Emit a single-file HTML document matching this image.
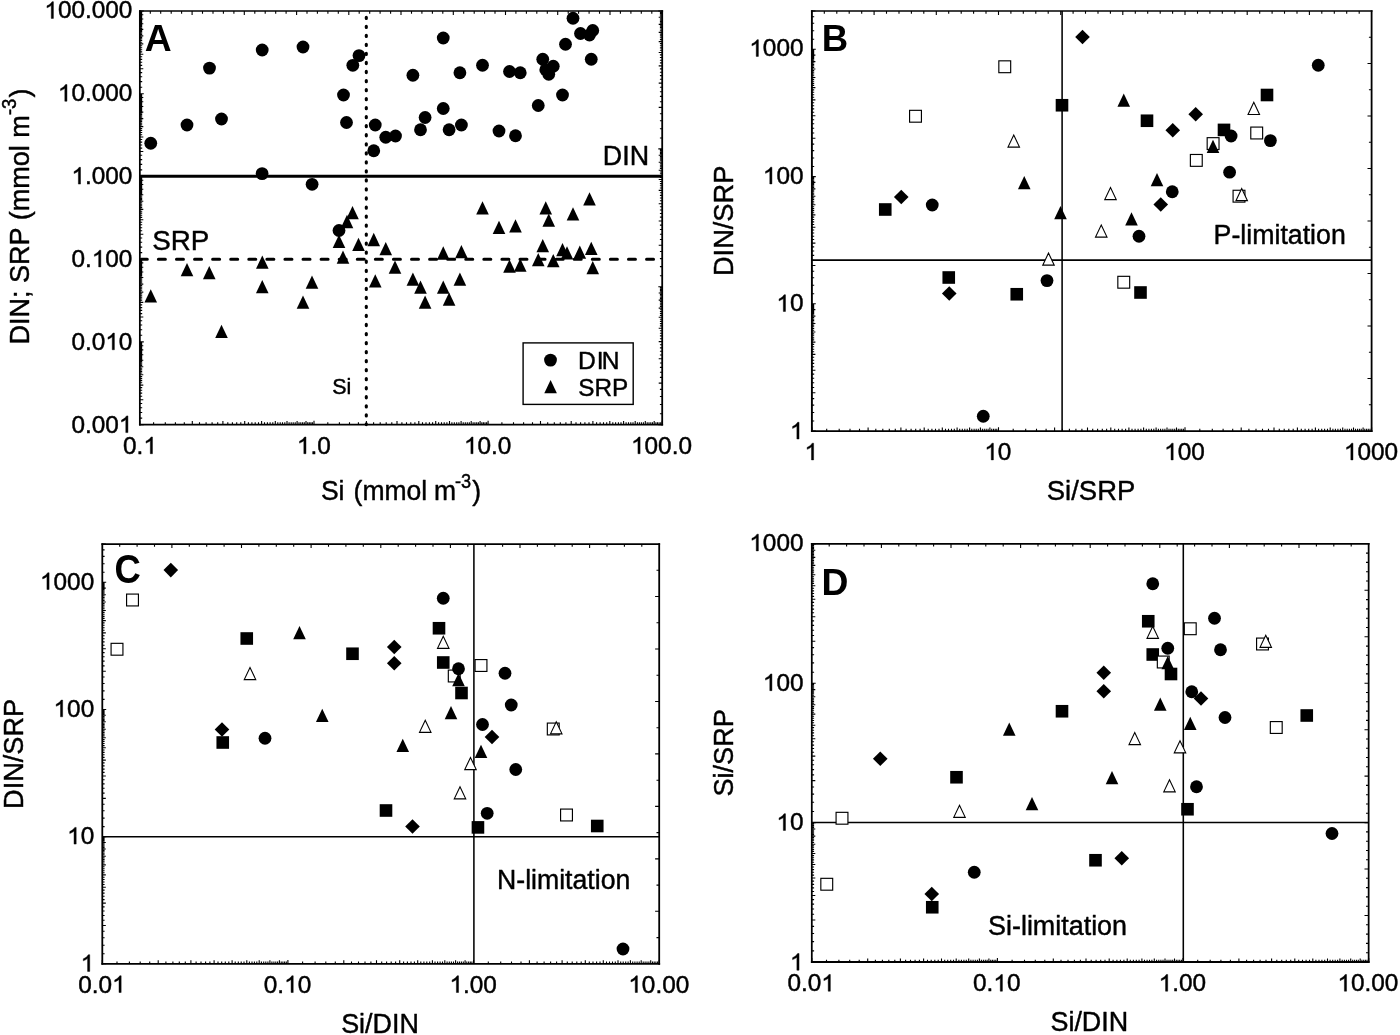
<!DOCTYPE html>
<html><head><meta charset="utf-8"><title>Nutrient ratios</title>
<style>
html,body{margin:0;padding:0;background:#fff;}
svg{display:block;font-family:"Liberation Sans", sans-serif;fill:#000;will-change:transform;}
svg text{font-family:"Liberation Sans", sans-serif;stroke:#000;stroke-width:0.45px;stroke-linejoin:round;}
</style></head><body>
<svg width="1400" height="1035" viewBox="0 0 1400 1035">
<rect width="1400" height="1035" fill="#fff"/>
<line x1="139.85" y1="176.30" x2="662.20" y2="176.30" stroke="#000" stroke-width="3.0" />
<line x1="141.20" y1="259.20" x2="662.20" y2="259.20" stroke="#000" stroke-width="3.0" stroke-dasharray="7 11.08" stroke-dashoffset="0.9" stroke-linecap="round"/>
<line x1="366.30" y1="17.20" x2="366.30" y2="424.60" stroke="#000" stroke-width="3.1" stroke-dasharray="1.2 7.835" stroke-linecap="round"/>
<circle cx="150.75" cy="143.25" r="6.4" fill="#000"/>
<circle cx="187.00" cy="125.00" r="6.4" fill="#000"/>
<circle cx="209.50" cy="68.10" r="6.4" fill="#000"/>
<circle cx="221.50" cy="119.00" r="6.4" fill="#000"/>
<circle cx="262.20" cy="50.00" r="6.4" fill="#000"/>
<circle cx="262.10" cy="173.60" r="6.4" fill="#000"/>
<circle cx="303.00" cy="47.00" r="6.4" fill="#000"/>
<circle cx="312.10" cy="184.30" r="6.4" fill="#000"/>
<circle cx="343.50" cy="95.00" r="6.4" fill="#000"/>
<circle cx="346.50" cy="122.50" r="6.4" fill="#000"/>
<circle cx="352.80" cy="65.30" r="6.4" fill="#000"/>
<circle cx="359.00" cy="55.60" r="6.4" fill="#000"/>
<circle cx="339.00" cy="230.50" r="6.4" fill="#000"/>
<circle cx="375.25" cy="125.00" r="6.4" fill="#000"/>
<circle cx="373.75" cy="150.75" r="6.4" fill="#000"/>
<circle cx="385.75" cy="137.25" r="6.4" fill="#000"/>
<circle cx="395.50" cy="136.00" r="6.4" fill="#000"/>
<circle cx="412.90" cy="75.25" r="6.4" fill="#000"/>
<circle cx="420.50" cy="129.75" r="6.4" fill="#000"/>
<circle cx="425.10" cy="117.50" r="6.4" fill="#000"/>
<circle cx="443.25" cy="38.00" r="6.4" fill="#000"/>
<circle cx="443.25" cy="108.50" r="6.4" fill="#000"/>
<circle cx="449.10" cy="129.75" r="6.4" fill="#000"/>
<circle cx="459.90" cy="72.75" r="6.4" fill="#000"/>
<circle cx="461.40" cy="125.00" r="6.4" fill="#000"/>
<circle cx="482.50" cy="65.25" r="6.4" fill="#000"/>
<circle cx="499.00" cy="131.00" r="6.4" fill="#000"/>
<circle cx="509.50" cy="71.50" r="6.4" fill="#000"/>
<circle cx="515.50" cy="135.75" r="6.4" fill="#000"/>
<circle cx="520.25" cy="72.75" r="6.4" fill="#000"/>
<circle cx="538.25" cy="105.50" r="6.4" fill="#000"/>
<circle cx="542.75" cy="59.25" r="6.4" fill="#000"/>
<circle cx="545.75" cy="69.75" r="6.4" fill="#000"/>
<circle cx="548.75" cy="74.25" r="6.4" fill="#000"/>
<circle cx="553.25" cy="66.25" r="6.4" fill="#000"/>
<circle cx="562.50" cy="95.00" r="6.4" fill="#000"/>
<circle cx="565.50" cy="44.25" r="6.4" fill="#000"/>
<circle cx="573.00" cy="18.25" r="6.4" fill="#000"/>
<circle cx="580.50" cy="33.50" r="6.4" fill="#000"/>
<circle cx="589.50" cy="35.00" r="6.4" fill="#000"/>
<circle cx="592.75" cy="30.50" r="6.4" fill="#000"/>
<circle cx="591.25" cy="59.25" r="6.4" fill="#000"/>
<path d="M144.45 302.60L157.05 302.60L150.75 289.30Z" fill="#000"/>
<path d="M180.70 276.35L193.30 276.35L187.00 263.05Z" fill="#000"/>
<path d="M202.95 279.35L215.55 279.35L209.25 266.05Z" fill="#000"/>
<path d="M215.20 338.10L227.80 338.10L221.50 324.80Z" fill="#000"/>
<path d="M256.00 268.70L268.60 268.70L262.30 255.40Z" fill="#000"/>
<path d="M255.95 293.35L268.55 293.35L262.25 280.05Z" fill="#000"/>
<path d="M296.70 308.85L309.30 308.85L303.00 295.55Z" fill="#000"/>
<path d="M305.70 288.85L318.30 288.85L312.00 275.55Z" fill="#000"/>
<path d="M332.70 248.05L345.30 248.05L339.00 234.75Z" fill="#000"/>
<path d="M336.70 263.85L349.30 263.85L343.00 250.55Z" fill="#000"/>
<path d="M340.70 228.15L353.30 228.15L347.00 214.85Z" fill="#000"/>
<path d="M346.20 219.25L358.80 219.25L352.50 205.95Z" fill="#000"/>
<path d="M352.20 251.05L364.80 251.05L358.50 237.75Z" fill="#000"/>
<path d="M367.45 246.15L380.05 246.15L373.75 232.85Z" fill="#000"/>
<path d="M368.95 287.60L381.55 287.60L375.25 274.30Z" fill="#000"/>
<path d="M379.45 255.35L392.05 255.35L385.75 242.05Z" fill="#000"/>
<path d="M388.70 273.85L401.30 273.85L395.00 260.55Z" fill="#000"/>
<path d="M406.60 285.85L419.20 285.85L412.90 272.55Z" fill="#000"/>
<path d="M414.20 293.85L426.80 293.85L420.50 280.55Z" fill="#000"/>
<path d="M418.80 308.85L431.40 308.85L425.10 295.55Z" fill="#000"/>
<path d="M436.95 259.65L449.55 259.65L443.25 246.35Z" fill="#000"/>
<path d="M436.95 293.85L449.55 293.85L443.25 280.55Z" fill="#000"/>
<path d="M442.80 305.85L455.40 305.85L449.10 292.55Z" fill="#000"/>
<path d="M453.60 285.85L466.20 285.85L459.90 272.55Z" fill="#000"/>
<path d="M455.10 258.35L467.70 258.35L461.40 245.05Z" fill="#000"/>
<path d="M476.20 214.45L488.80 214.45L482.50 201.15Z" fill="#000"/>
<path d="M492.70 234.05L505.30 234.05L499.00 220.75Z" fill="#000"/>
<path d="M509.20 232.60L521.80 232.60L515.50 219.30Z" fill="#000"/>
<path d="M539.45 214.45L552.05 214.45L545.75 201.15Z" fill="#000"/>
<path d="M542.45 226.85L555.05 226.85L548.75 213.55Z" fill="#000"/>
<path d="M566.70 220.60L579.30 220.60L573.00 207.30Z" fill="#000"/>
<path d="M583.20 205.60L595.80 205.60L589.50 192.30Z" fill="#000"/>
<path d="M536.45 252.35L549.05 252.35L542.75 239.05Z" fill="#000"/>
<path d="M556.20 256.35L568.80 256.35L562.50 243.05Z" fill="#000"/>
<path d="M560.70 259.60L573.30 259.60L567.00 246.30Z" fill="#000"/>
<path d="M573.50 258.85L586.10 258.85L579.80 245.55Z" fill="#000"/>
<path d="M584.95 255.10L597.55 255.10L591.25 241.80Z" fill="#000"/>
<path d="M503.20 272.85L515.80 272.85L509.50 259.55Z" fill="#000"/>
<path d="M513.95 271.85L526.55 271.85L520.25 258.55Z" fill="#000"/>
<path d="M531.95 266.35L544.55 266.35L538.25 253.05Z" fill="#000"/>
<path d="M546.95 267.35L559.55 267.35L553.25 254.05Z" fill="#000"/>
<path d="M586.45 274.35L599.05 274.35L592.75 261.05Z" fill="#000"/>
<line x1="139.85" y1="10.15" x2="139.85" y2="425.55" stroke="#000" stroke-width="1.75" />
<line x1="662.20" y1="10.15" x2="662.20" y2="425.55" stroke="#000" stroke-width="1.8" />
<line x1="138.97" y1="11.00" x2="663.10" y2="11.00" stroke="#000" stroke-width="1.7" />
<line x1="138.97" y1="424.60" x2="663.10" y2="424.60" stroke="#000" stroke-width="1.9" />
<path d="M139.8 424.6L143.8 424.6M139.8 418.1L142.2 418.1M139.8 412.5L142.2 412.5M139.8 407.7L142.2 407.7M139.8 403.5L142.2 403.5M139.8 399.7L143.3 399.7M139.8 396.3L142.2 396.3M139.8 393.1L142.2 393.1M139.8 390.3L142.2 390.3M139.8 387.6L142.2 387.6M139.8 385.1L143.3 385.1M139.8 382.8L142.2 382.8M139.8 380.6L142.2 380.6M139.8 378.6L142.2 378.6M139.8 376.6L142.2 376.6M139.8 374.8L143.3 374.8M139.8 373.0L142.2 373.0M139.8 371.4L142.2 371.4M139.8 369.8L142.2 369.8M139.8 368.2L142.2 368.2M139.8 366.8L143.3 366.8M139.8 365.4L142.2 365.4M139.8 364.0L142.2 364.0M139.8 362.7L142.2 362.7M139.8 361.4L142.2 361.4M139.8 360.2L143.3 360.2M139.8 359.1L142.2 359.1M139.8 357.9L142.2 357.9M139.8 356.8L142.2 356.8M139.8 355.7L142.2 355.7M139.8 354.7L143.3 354.7M139.8 353.7L142.2 353.7M139.8 352.7L142.2 352.7M139.8 351.7L142.2 351.7M139.8 350.8L142.2 350.8M139.8 349.9L143.3 349.9M139.8 349.0L142.2 349.0M139.8 348.1L142.2 348.1M139.8 347.3L142.2 347.3M139.8 346.5L142.2 346.5M139.8 345.7L143.3 345.7M139.8 344.9L142.2 344.9M139.8 344.1L142.2 344.1M139.8 343.3L142.2 343.3M139.8 342.6L142.2 342.6M139.8 341.9L143.8 341.9M139.8 335.3L142.2 335.3M139.8 329.8L142.2 329.8M139.8 325.0L142.2 325.0M139.8 320.8L142.2 320.8M139.8 317.0L143.3 317.0M139.8 313.6L142.2 313.6M139.8 310.4L142.2 310.4M139.8 307.6L142.2 307.6M139.8 304.9L142.2 304.9M139.8 302.4L143.3 302.4M139.8 300.1L142.2 300.1M139.8 297.9L142.2 297.9M139.8 295.9L142.2 295.9M139.8 293.9L142.2 293.9M139.8 292.1L143.3 292.1M139.8 290.3L142.2 290.3M139.8 288.7L142.2 288.7M139.8 287.1L142.2 287.1M139.8 285.5L142.2 285.5M139.8 284.1L143.3 284.1M139.8 282.7L142.2 282.7M139.8 281.3L142.2 281.3M139.8 280.0L142.2 280.0M139.8 278.7L142.2 278.7M139.8 277.5L143.3 277.5M139.8 276.3L142.2 276.3M139.8 275.2L142.2 275.2M139.8 274.1L142.2 274.1M139.8 273.0L142.2 273.0M139.8 272.0L143.3 272.0M139.8 271.0L142.2 271.0M139.8 270.0L142.2 270.0M139.8 269.0L142.2 269.0M139.8 268.1L142.2 268.1M139.8 267.2L143.3 267.2M139.8 266.3L142.2 266.3M139.8 265.4L142.2 265.4M139.8 264.6L142.2 264.6M139.8 263.8L142.2 263.8M139.8 262.9L143.3 262.9M139.8 262.2L142.2 262.2M139.8 261.4L142.2 261.4M139.8 260.6L142.2 260.6M139.8 259.9L142.2 259.9M139.8 259.2L143.8 259.2M139.8 252.6L142.2 252.6M139.8 247.1L142.2 247.1M139.8 242.3L142.2 242.3M139.8 238.0L142.2 238.0M139.8 234.3L143.3 234.3M139.8 230.8L142.2 230.8M139.8 227.7L142.2 227.7M139.8 224.8L142.2 224.8M139.8 222.2L142.2 222.2M139.8 219.7L143.3 219.7M139.8 217.4L142.2 217.4M139.8 215.2L142.2 215.2M139.8 213.1L142.2 213.1M139.8 211.2L142.2 211.2M139.8 209.4L143.3 209.4M139.8 207.6L142.2 207.6M139.8 205.9L142.2 205.9M139.8 204.3L142.2 204.3M139.8 202.8L142.2 202.8M139.8 201.3L143.3 201.3M139.8 199.9L142.2 199.9M139.8 198.6L142.2 198.6M139.8 197.3L142.2 197.3M139.8 196.0L142.2 196.0M139.8 194.8L143.3 194.8M139.8 193.6L142.2 193.6M139.8 192.5L142.2 192.5M139.8 191.4L142.2 191.4M139.8 190.3L142.2 190.3M139.8 189.3L143.3 189.3M139.8 188.2L142.2 188.2M139.8 187.3L142.2 187.3M139.8 186.3L142.2 186.3M139.8 185.4L142.2 185.4M139.8 184.5L143.3 184.5M139.8 183.6L142.2 183.6M139.8 182.7L142.2 182.7M139.8 181.9L142.2 181.9M139.8 181.0L142.2 181.0M139.8 180.2L143.3 180.2M139.8 179.4L142.2 179.4M139.8 178.7L142.2 178.7M139.8 177.9L142.2 177.9M139.8 177.2L142.2 177.2M139.8 176.4L143.8 176.4M139.8 169.9L142.2 169.9M139.8 164.4L142.2 164.4M139.8 159.6L142.2 159.6M139.8 155.3L142.2 155.3M139.8 151.5L143.3 151.5M139.8 148.1L142.2 148.1M139.8 145.0L142.2 145.0M139.8 142.1L142.2 142.1M139.8 139.5L142.2 139.5M139.8 137.0L143.3 137.0M139.8 134.7L142.2 134.7M139.8 132.5L142.2 132.5M139.8 130.4L142.2 130.4M139.8 128.5L142.2 128.5M139.8 126.6L143.3 126.6M139.8 124.9L142.2 124.9M139.8 123.2L142.2 123.2M139.8 121.6L142.2 121.6M139.8 120.1L142.2 120.1M139.8 118.6L143.3 118.6M139.8 117.2L142.2 117.2M139.8 115.9L142.2 115.9M139.8 114.5L142.2 114.5M139.8 113.3L142.2 113.3M139.8 112.1L143.3 112.1M139.8 110.9L142.2 110.9M139.8 109.8L142.2 109.8M139.8 108.6L142.2 108.6M139.8 107.6L142.2 107.6M139.8 106.5L143.3 106.5M139.8 105.5L142.2 105.5M139.8 104.5L142.2 104.5M139.8 103.6L142.2 103.6M139.8 102.6L142.2 102.6M139.8 101.7L143.3 101.7M139.8 100.8L142.2 100.8M139.8 100.0L142.2 100.0M139.8 99.1L142.2 99.1M139.8 98.3L142.2 98.3M139.8 97.5L143.3 97.5M139.8 96.7L142.2 96.7M139.8 95.9L142.2 95.9M139.8 95.2L142.2 95.2M139.8 94.4L142.2 94.4M139.8 93.7L143.8 93.7M139.8 87.2L142.2 87.2M139.8 81.6L142.2 81.6M139.8 76.8L142.2 76.8M139.8 72.6L142.2 72.6M139.8 68.8L143.3 68.8M139.8 65.4L142.2 65.4M139.8 62.3L142.2 62.3M139.8 59.4L142.2 59.4M139.8 56.7L142.2 56.7M139.8 54.3L143.3 54.3M139.8 51.9L142.2 51.9M139.8 49.8L142.2 49.8M139.8 47.7L142.2 47.7M139.8 45.8L142.2 45.8M139.8 43.9L143.3 43.9M139.8 42.2L142.2 42.2M139.8 40.5L142.2 40.5M139.8 38.9L142.2 38.9M139.8 37.4L142.2 37.4M139.8 35.9L143.3 35.9M139.8 34.5L142.2 34.5M139.8 33.1L142.2 33.1M139.8 31.8L142.2 31.8M139.8 30.6L142.2 30.6M139.8 29.4L143.3 29.4M139.8 28.2L142.2 28.2M139.8 27.0L142.2 27.0M139.8 25.9L142.2 25.9M139.8 24.9L142.2 24.9M139.8 23.8L143.3 23.8M139.8 22.8L142.2 22.8M139.8 21.8L142.2 21.8M139.8 20.9L142.2 20.9M139.8 19.9L142.2 19.9M139.8 19.0L143.3 19.0M139.8 18.1L142.2 18.1M139.8 17.3L142.2 17.3M139.8 16.4L142.2 16.4M139.8 15.6L142.2 15.6M139.8 14.8L143.3 14.8M139.8 14.0L142.2 14.0M139.8 13.2L142.2 13.2M139.8 12.5L142.2 12.5M139.8 11.7L142.2 11.7M139.8 11.0L143.8 11.0M139.8 424.6L139.8 420.7M153.6 424.6L153.6 422.3M165.3 424.6L165.3 422.3M175.4 424.6L175.4 422.3M184.3 424.6L184.3 422.3M192.3 424.6L192.3 421.1M199.5 424.6L199.5 422.3M206.1 424.6L206.1 422.3M212.1 424.6L212.1 422.3M217.7 424.6L217.7 422.3M222.9 424.6L222.9 421.1M227.8 424.6L227.8 422.3M232.4 424.6L232.4 422.3M236.7 424.6L236.7 422.3M240.8 424.6L240.8 422.3M244.7 424.6L244.7 421.1M248.4 424.6L248.4 422.3M251.9 424.6L251.9 422.3M255.2 424.6L255.2 422.3M258.5 424.6L258.5 422.3M261.6 424.6L261.6 421.1M264.5 424.6L264.5 422.3M267.4 424.6L267.4 422.3M270.1 424.6L270.1 422.3M272.8 424.6L272.8 422.3M275.3 424.6L275.3 421.1M277.8 424.6L277.8 422.3M280.2 424.6L280.2 422.3M282.5 424.6L282.5 422.3M284.8 424.6L284.8 422.3M287.0 424.6L287.0 421.1M289.1 424.6L289.1 422.3M291.2 424.6L291.2 422.3M293.2 424.6L293.2 422.3M295.2 424.6L295.2 422.3M297.1 424.6L297.1 421.1M299.0 424.6L299.0 422.3M300.8 424.6L300.8 422.3M302.6 424.6L302.6 422.3M304.3 424.6L304.3 422.3M306.0 424.6L306.0 421.1M307.7 424.6L307.7 422.3M309.3 424.6L309.3 422.3M310.9 424.6L310.9 422.3M312.4 424.6L312.4 422.3M314.0 424.6L314.0 420.7M327.8 424.6L327.8 422.3M339.4 424.6L339.4 422.3M349.5 424.6L349.5 422.3M358.4 424.6L358.4 422.3M366.4 424.6L366.4 421.1M373.6 424.6L373.6 422.3M380.2 424.6L380.2 422.3M386.2 424.6L386.2 422.3M391.8 424.6L391.8 422.3M397.0 424.6L397.0 421.1M401.9 424.6L401.9 422.3M406.5 424.6L406.5 422.3M410.8 424.6L410.8 422.3M414.9 424.6L414.9 422.3M418.8 424.6L418.8 421.1M422.5 424.6L422.5 422.3M426.0 424.6L426.0 422.3M429.4 424.6L429.4 422.3M432.6 424.6L432.6 422.3M435.7 424.6L435.7 421.1M438.6 424.6L438.6 422.3M441.5 424.6L441.5 422.3M444.2 424.6L444.2 422.3M446.9 424.6L446.9 422.3M449.5 424.6L449.5 421.1M451.9 424.6L451.9 422.3M454.3 424.6L454.3 422.3M456.7 424.6L456.7 422.3M458.9 424.6L458.9 422.3M461.1 424.6L461.1 421.1M463.2 424.6L463.2 422.3M465.3 424.6L465.3 422.3M467.3 424.6L467.3 422.3M469.3 424.6L469.3 422.3M471.2 424.6L471.2 421.1M473.1 424.6L473.1 422.3M474.9 424.6L474.9 422.3M476.7 424.6L476.7 422.3M478.4 424.6L478.4 422.3M480.1 424.6L480.1 421.1M481.8 424.6L481.8 422.3M483.4 424.6L483.4 422.3M485.0 424.6L485.0 422.3M486.6 424.6L486.6 422.3M488.1 424.6L488.1 420.7M501.9 424.6L501.9 422.3M513.5 424.6L513.5 422.3M523.6 424.6L523.6 422.3M532.5 424.6L532.5 422.3M540.5 424.6L540.5 421.1M547.7 424.6L547.7 422.3M554.3 424.6L554.3 422.3M560.3 424.6L560.3 422.3M565.9 424.6L565.9 422.3M571.2 424.6L571.2 421.1M576.0 424.6L576.0 422.3M580.6 424.6L580.6 422.3M584.9 424.6L584.9 422.3M589.0 424.6L589.0 422.3M592.9 424.6L592.9 421.1M596.6 424.6L596.6 422.3M600.1 424.6L600.1 422.3M603.5 424.6L603.5 422.3M606.7 424.6L606.7 422.3M609.8 424.6L609.8 421.1M612.8 424.6L612.8 422.3M615.6 424.6L615.6 422.3M618.4 424.6L618.4 422.3M621.0 424.6L621.0 422.3M623.6 424.6L623.6 421.1M626.1 424.6L626.1 422.3M628.5 424.6L628.5 422.3M630.8 424.6L630.8 422.3M633.0 424.6L633.0 422.3M635.2 424.6L635.2 421.1M637.4 424.6L637.4 422.3M639.4 424.6L639.4 422.3M641.4 424.6L641.4 422.3M643.4 424.6L643.4 422.3M645.3 424.6L645.3 421.1M647.2 424.6L647.2 422.3M649.0 424.6L649.0 422.3M650.8 424.6L650.8 422.3M652.5 424.6L652.5 422.3M654.2 424.6L654.2 421.1M655.9 424.6L655.9 422.3M657.5 424.6L657.5 422.3M659.1 424.6L659.1 422.3M660.7 424.6L660.7 422.3M662.2 424.6L662.2 420.7M662.2 424.6L658.3 424.6M662.2 413.7L659.9 413.7M662.2 404.5L659.9 404.5M662.2 396.5L659.9 396.5M662.2 389.4L659.9 389.4M662.2 383.1L658.7 383.1M662.2 377.4L659.9 377.4M662.2 372.2L659.9 372.2M662.2 367.4L659.9 367.4M662.2 363.0L659.9 363.0M662.2 358.8L658.7 358.8M662.2 355.0L659.9 355.0M662.2 351.3L659.9 351.3M662.2 347.9L659.9 347.9M662.2 344.7L659.9 344.7M662.2 341.6L658.7 341.6M662.2 338.7L659.9 338.7M662.2 335.9L659.9 335.9M662.2 333.2L659.9 333.2M662.2 330.7L659.9 330.7M662.2 328.2L658.7 328.2M662.2 325.9L659.9 325.9M662.2 323.6L659.9 323.6M662.2 321.4L659.9 321.4M662.2 319.3L659.9 319.3M662.2 317.3L658.7 317.3M662.2 315.4L659.9 315.4M662.2 313.5L659.9 313.5M662.2 311.6L659.9 311.6M662.2 309.8L659.9 309.8M662.2 308.1L658.7 308.1M662.2 306.4L659.9 306.4M662.2 304.8L659.9 304.8M662.2 303.2L659.9 303.2M662.2 301.6L659.9 301.6M662.2 300.1L658.7 300.1M662.2 298.6L659.9 298.6M662.2 297.2L659.9 297.2M662.2 295.8L659.9 295.8M662.2 294.4L659.9 294.4M662.2 293.0L658.7 293.0M662.2 291.7L659.9 291.7M662.2 290.4L659.9 290.4M662.2 289.2L659.9 289.2M662.2 287.9L659.9 287.9M662.2 286.7L658.3 286.7M662.2 275.8L659.9 275.8M662.2 266.6L659.9 266.6M662.2 258.6L659.9 258.6M662.2 251.5L659.9 251.5M662.2 245.2L658.7 245.2M662.2 239.5L659.9 239.5M662.2 234.3L659.9 234.3M662.2 229.5L659.9 229.5M662.2 225.1L659.9 225.1M662.2 221.0L658.7 221.0M662.2 217.1L659.9 217.1M662.2 213.5L659.9 213.5M662.2 210.0L659.9 210.0M662.2 206.8L659.9 206.8M662.2 203.7L658.7 203.7M662.2 200.8L659.9 200.8M662.2 198.0L659.9 198.0M662.2 195.4L659.9 195.4M662.2 192.8L659.9 192.8M662.2 190.4L658.7 190.4M662.2 188.0L659.9 188.0M662.2 185.8L659.9 185.8M662.2 183.6L659.9 183.6M662.2 181.5L659.9 181.5M662.2 179.5L658.7 179.5M662.2 177.5L659.9 177.5M662.2 175.6L659.9 175.6M662.2 173.7L659.9 173.7M662.2 172.0L659.9 172.0M662.2 170.2L658.7 170.2M662.2 168.5L659.9 168.5M662.2 166.9L659.9 166.9M662.2 165.3L659.9 165.3M662.2 163.7L659.9 163.7M662.2 162.2L658.7 162.2M662.2 160.7L659.9 160.7M662.2 159.3L659.9 159.3M662.2 157.9L659.9 157.9M662.2 156.5L659.9 156.5M662.2 155.2L658.7 155.2M662.2 153.9L659.9 153.9M662.2 152.6L659.9 152.6M662.2 151.3L659.9 151.3M662.2 150.1L659.9 150.1M662.2 148.9L658.3 148.9M662.2 138.0L659.9 138.0M662.2 128.7L659.9 128.7M662.2 120.7L659.9 120.7M662.2 113.7L659.9 113.7M662.2 107.4L658.7 107.4M662.2 101.7L659.9 101.7M662.2 96.4L659.9 96.4M662.2 91.7L659.9 91.7M662.2 87.2L659.9 87.2M662.2 83.1L658.7 83.1M662.2 79.2L659.9 79.2M662.2 75.6L659.9 75.6M662.2 72.2L659.9 72.2M662.2 68.9L659.9 68.9M662.2 65.9L658.7 65.9M662.2 62.9L659.9 62.9M662.2 60.2L659.9 60.2M662.2 57.5L659.9 57.5M662.2 54.9L659.9 54.9M662.2 52.5L658.7 52.5M662.2 50.2L659.9 50.2M662.2 47.9L659.9 47.9M662.2 45.7L659.9 45.7M662.2 43.6L659.9 43.6M662.2 41.6L658.7 41.6M662.2 39.6L659.9 39.6M662.2 37.7L659.9 37.7M662.2 35.9L659.9 35.9M662.2 34.1L659.9 34.1M662.2 32.4L658.7 32.4M662.2 30.7L659.9 30.7M662.2 29.0L659.9 29.0M662.2 27.4L659.9 27.4M662.2 25.9L659.9 25.9M662.2 24.4L658.7 24.4M662.2 22.9L659.9 22.9M662.2 21.4L659.9 21.4M662.2 20.0L659.9 20.0M662.2 18.7L659.9 18.7M662.2 17.3L658.7 17.3M662.2 16.0L659.9 16.0M662.2 14.7L659.9 14.7M662.2 13.4L659.9 13.4M662.2 12.2L659.9 12.2M662.2 11.0L658.3 11.0M150.3 11.0L150.3 13.8M160.7 11.0L160.7 13.8M171.2 11.0L171.2 13.8M181.6 11.0L181.6 13.8M192.1 11.0L192.1 15.1M202.5 11.0L202.5 13.8M213.0 11.0L213.0 13.8M223.4 11.0L223.4 13.8M233.9 11.0L233.9 13.8M244.3 11.0L244.3 15.1M254.8 11.0L254.8 13.8M265.2 11.0L265.2 13.8M275.7 11.0L275.7 13.8M286.1 11.0L286.1 13.8M296.6 11.0L296.6 15.1M307.0 11.0L307.0 13.8M317.4 11.0L317.4 13.8M327.9 11.0L327.9 13.8M338.3 11.0L338.3 13.8M348.8 11.0L348.8 15.1M359.2 11.0L359.2 13.8M369.7 11.0L369.7 13.8M380.1 11.0L380.1 13.8M390.6 11.0L390.6 13.8M401.0 11.0L401.0 15.1M411.5 11.0L411.5 13.8M421.9 11.0L421.9 13.8M432.4 11.0L432.4 13.8M442.8 11.0L442.8 13.8M453.3 11.0L453.3 15.1M463.7 11.0L463.7 13.8M474.2 11.0L474.2 13.8M484.6 11.0L484.6 13.8M495.0 11.0L495.0 13.8M505.5 11.0L505.5 15.1M515.9 11.0L515.9 13.8M526.4 11.0L526.4 13.8M536.8 11.0L536.8 13.8M547.3 11.0L547.3 13.8M557.7 11.0L557.7 15.1M568.2 11.0L568.2 13.8M578.6 11.0L578.6 13.8M589.1 11.0L589.1 13.8M599.5 11.0L599.5 13.8M610.0 11.0L610.0 15.1M620.4 11.0L620.4 13.8M630.9 11.0L630.9 13.8M641.3 11.0L641.3 13.8M651.8 11.0L651.8 13.8" stroke="#000" stroke-width="1.1" fill="none"/>
<g transform="translate(44.33 18.40) scale(1.007 1)"><text font-size="24.2" x="13.46 26.91 40.37 47.09 60.55 74.00" y="0">00.000</text><path d="M763 0H583V1147Q518 1085 412.5 1023T223 930V1104Q374 1175 487 1276T647 1472H763Z" transform="translate(0.00 0) scale(0.01182 -0.01136)" fill="#000" stroke="#000" stroke-width="38.1" stroke-linejoin="round"/></g>
<g transform="translate(57.88 101.24) scale(1.007 1)"><text font-size="24.2" x="13.46 26.91 33.64 47.09 60.55" y="0">0.000</text><path d="M763 0H583V1147Q518 1085 412.5 1023T223 930V1104Q374 1175 487 1276T647 1472H763Z" transform="translate(0.00 0) scale(0.01182 -0.01136)" fill="#000" stroke="#000" stroke-width="38.1" stroke-linejoin="round"/></g>
<g transform="translate(71.43 184.08) scale(1.007 1)"><text font-size="24.2" x="13.46 20.18 33.64 47.09" y="0">.000</text><path d="M763 0H583V1147Q518 1085 412.5 1023T223 930V1104Q374 1175 487 1276T647 1472H763Z" transform="translate(0.00 0) scale(0.01182 -0.01136)" fill="#000" stroke="#000" stroke-width="38.1" stroke-linejoin="round"/></g>
<g transform="translate(71.43 266.92) scale(1.007 1)"><text font-size="24.2" x="0.00 13.46 33.64 47.09" y="0">0.00</text><path d="M763 0H583V1147Q518 1085 412.5 1023T223 930V1104Q374 1175 487 1276T647 1472H763Z" transform="translate(20.18 0) scale(0.01182 -0.01136)" fill="#000" stroke="#000" stroke-width="38.1" stroke-linejoin="round"/></g>
<g transform="translate(71.43 349.76) scale(1.007 1)"><text font-size="24.2" x="0.00 13.46 20.18 47.09" y="0">0.00</text><path d="M763 0H583V1147Q518 1085 412.5 1023T223 930V1104Q374 1175 487 1276T647 1472H763Z" transform="translate(33.64 0) scale(0.01182 -0.01136)" fill="#000" stroke="#000" stroke-width="38.1" stroke-linejoin="round"/></g>
<g transform="translate(71.43 432.60) scale(1.007 1)"><text font-size="24.2" x="0.00 13.46 20.18 33.64" y="0">0.00</text><path d="M763 0H583V1147Q518 1085 412.5 1023T223 930V1104Q374 1175 487 1276T647 1472H763Z" transform="translate(47.09 0) scale(0.01182 -0.01136)" fill="#000" stroke="#000" stroke-width="38.1" stroke-linejoin="round"/></g>
<g transform="translate(123.06 453.70) scale(1.007 1)"><text font-size="24.2" x="0.00 13.46" y="0">0.</text><path d="M763 0H583V1147Q518 1085 412.5 1023T223 930V1104Q374 1175 487 1276T647 1472H763Z" transform="translate(20.18 0) scale(0.01182 -0.01136)" fill="#000" stroke="#000" stroke-width="38.1" stroke-linejoin="round"/></g>
<g transform="translate(296.89 453.70) scale(1.007 1)"><text font-size="24.2" x="13.46 20.18" y="0">.0</text><path d="M763 0H583V1147Q518 1085 412.5 1023T223 930V1104Q374 1175 487 1276T647 1472H763Z" transform="translate(0.00 0) scale(0.01182 -0.01136)" fill="#000" stroke="#000" stroke-width="38.1" stroke-linejoin="round"/></g>
<g transform="translate(463.95 453.70) scale(1.007 1)"><text font-size="24.2" x="13.46 26.91 33.64" y="0">0.0</text><path d="M763 0H583V1147Q518 1085 412.5 1023T223 930V1104Q374 1175 487 1276T647 1472H763Z" transform="translate(0.00 0) scale(0.01182 -0.01136)" fill="#000" stroke="#000" stroke-width="38.1" stroke-linejoin="round"/></g>
<g transform="translate(631.00 453.70) scale(1.007 1)"><text font-size="24.2" x="13.46 26.91 40.37 47.09" y="0">00.0</text><path d="M763 0H583V1147Q518 1085 412.5 1023T223 930V1104Q374 1175 487 1276T647 1472H763Z" transform="translate(0.00 0) scale(0.01182 -0.01136)" fill="#000" stroke="#000" stroke-width="38.1" stroke-linejoin="round"/></g>
<text font-size="28.2" text-anchor="start" transform="translate(602.85 165.20) scale(0.952 1)" >DIN</text>
<text font-size="28.2" text-anchor="start" transform="translate(152.20 249.70) scale(0.984 1)" >SRP</text>
<text font-size="21.4" text-anchor="start" transform="translate(332.20 393.80)" >Si</text>
<text font-size="37.5" text-anchor="start" font-weight="bold" transform="translate(144.85 51.00) scale(0.995 1)" style="stroke:none">A</text>
<rect x="523.1" y="342.9" width="110.1" height="61.5" fill="#fff" stroke="#000" stroke-width="1.4"/>
<circle cx="550.50" cy="360.10" r="6.4" fill="#000"/>
<path d="M544.30 393.25L556.90 393.25L550.60 379.95Z" fill="#000"/>
<text font-size="24.6" x="578.0 596.8 601.7" y="368.6">DIN</text>
<text font-size="24.6" text-anchor="start" transform="translate(578.30 396.20) scale(0.988 1)" >SRP</text>
<text font-size="28.2" transform="translate(320.9 500.3) scale(0.94 1)">Si<tspan dx="1.9"> (mmol</tspan><tspan dx="-0.6"> m</tspan><tspan font-size="19.3" dy="-12.6" dx="-1.3">-3</tspan><tspan dy="12.6" dx="1.2">)</tspan></text>
<text font-size="28.2" transform="translate(29.2 344.6) rotate(-90) scale(0.96 1)">DIN; SRP (mmol m<tspan font-size="19.3" dy="-12.8">-3</tspan><tspan dy="12.8" dx="1.2">)</tspan></text>
<line x1="811.90" y1="260.10" x2="1371.60" y2="260.10" stroke="#000" stroke-width="1.55" />
<line x1="1062.10" y1="11.00" x2="1062.10" y2="431.05" stroke="#000" stroke-width="1.55" />
<rect x="878.95" y="203.20" width="12.6" height="12.6" fill="#000"/>
<rect x="1055.70" y="98.95" width="12.6" height="12.6" fill="#000"/>
<rect x="1140.70" y="114.45" width="12.6" height="12.6" fill="#000"/>
<rect x="1260.70" y="88.70" width="12.6" height="12.6" fill="#000"/>
<rect x="1217.70" y="123.60" width="12.6" height="12.6" fill="#000"/>
<rect x="942.45" y="271.20" width="12.6" height="12.6" fill="#000"/>
<rect x="1010.45" y="287.95" width="12.6" height="12.6" fill="#000"/>
<rect x="1134.20" y="286.20" width="12.6" height="12.6" fill="#000"/>
<rect x="998.83" y="60.83" width="11.85" height="11.85" fill="#fff" stroke="#000" stroke-width="1.15"/>
<rect x="909.58" y="110.33" width="11.85" height="11.85" fill="#fff" stroke="#000" stroke-width="1.15"/>
<rect x="1250.78" y="127.08" width="11.85" height="11.85" fill="#fff" stroke="#000" stroke-width="1.15"/>
<rect x="1207.17" y="137.67" width="11.85" height="11.85" fill="#fff" stroke="#000" stroke-width="1.15"/>
<rect x="1190.38" y="154.47" width="11.85" height="11.85" fill="#fff" stroke="#000" stroke-width="1.15"/>
<rect x="1233.08" y="190.27" width="11.85" height="11.85" fill="#fff" stroke="#000" stroke-width="1.15"/>
<rect x="1117.83" y="276.32" width="11.85" height="11.85" fill="#fff" stroke="#000" stroke-width="1.15"/>
<circle cx="932.25" cy="205.00" r="6.4" fill="#000"/>
<circle cx="1318.25" cy="65.25" r="6.4" fill="#000"/>
<circle cx="1231.10" cy="136.00" r="6.4" fill="#000"/>
<circle cx="1270.40" cy="140.60" r="6.4" fill="#000"/>
<circle cx="1229.60" cy="172.20" r="6.4" fill="#000"/>
<circle cx="1172.25" cy="191.75" r="6.4" fill="#000"/>
<circle cx="1139.00" cy="236.25" r="6.4" fill="#000"/>
<circle cx="1047.00" cy="280.60" r="6.4" fill="#000"/>
<circle cx="983.25" cy="416.25" r="6.4" fill="#000"/>
<path d="M893.95 197.00L901.25 189.70L908.55 197.00L901.25 204.30Z" fill="#000"/>
<path d="M1075.20 37.00L1082.50 29.70L1089.80 37.00L1082.50 44.30Z" fill="#000"/>
<path d="M1188.40 114.20L1195.70 106.90L1203.00 114.20L1195.70 121.50Z" fill="#000"/>
<path d="M1165.45 130.25L1172.75 122.95L1180.05 130.25L1172.75 137.55Z" fill="#000"/>
<path d="M1153.45 204.50L1160.75 197.20L1168.05 204.50L1160.75 211.80Z" fill="#000"/>
<path d="M941.95 293.50L949.25 286.20L956.55 293.50L949.25 300.80Z" fill="#000"/>
<path d="M1017.95 189.35L1030.55 189.35L1024.25 176.05Z" fill="#000"/>
<path d="M1117.45 106.85L1130.05 106.85L1123.75 93.55Z" fill="#000"/>
<path d="M1206.70 153.05L1219.30 153.05L1213.00 139.75Z" fill="#000"/>
<path d="M1150.70 186.35L1163.30 186.35L1157.00 173.05Z" fill="#000"/>
<path d="M1054.20 219.35L1066.80 219.35L1060.50 206.05Z" fill="#000"/>
<path d="M1125.20 225.60L1137.80 225.60L1131.50 212.30Z" fill="#000"/>
<path d="M1008.00 147.10L1019.50 147.10L1013.75 135.00Z" fill="#fff" stroke="#000" stroke-width="1.1" stroke-linejoin="miter"/>
<path d="M1248.05 114.45L1259.55 114.45L1253.80 102.35Z" fill="#fff" stroke="#000" stroke-width="1.1" stroke-linejoin="miter"/>
<path d="M1104.75 199.60L1116.25 199.60L1110.50 187.50Z" fill="#fff" stroke="#000" stroke-width="1.1" stroke-linejoin="miter"/>
<path d="M1235.95 200.65L1247.45 200.65L1241.70 188.55Z" fill="#fff" stroke="#000" stroke-width="1.1" stroke-linejoin="miter"/>
<path d="M1095.50 237.10L1107.00 237.10L1101.25 225.00Z" fill="#fff" stroke="#000" stroke-width="1.1" stroke-linejoin="miter"/>
<path d="M1042.75 265.15L1054.25 265.15L1048.50 253.05Z" fill="#fff" stroke="#000" stroke-width="1.1" stroke-linejoin="miter"/>
<line x1="811.90" y1="10.15" x2="811.90" y2="431.93" stroke="#000" stroke-width="1.9" />
<line x1="1371.60" y1="10.15" x2="1371.60" y2="431.93" stroke="#000" stroke-width="1.8" />
<line x1="810.95" y1="11.00" x2="1372.50" y2="11.00" stroke="#000" stroke-width="1.7" />
<line x1="810.95" y1="431.05" x2="1372.50" y2="431.05" stroke="#000" stroke-width="1.75" />
<path d="M811.9 431.1L815.8 431.1M811.9 421.0L814.2 421.0M811.9 412.5L814.2 412.5M811.9 405.1L814.2 405.1M811.9 398.6L814.2 398.6M811.9 392.7L815.4 392.7M811.9 387.5L814.2 387.5M811.9 382.7L814.2 382.7M811.9 378.2L814.2 378.2M811.9 374.1L814.2 374.1M811.9 370.3L815.4 370.3M811.9 366.8L814.2 366.8M811.9 363.4L814.2 363.4M811.9 360.3L814.2 360.3M811.9 357.3L814.2 357.3M811.9 354.4L815.4 354.4M811.9 351.7L814.2 351.7M811.9 349.2L814.2 349.2M811.9 346.7L814.2 346.7M811.9 344.4L814.2 344.4M811.9 342.1L815.4 342.1M811.9 339.9L814.2 339.9M811.9 337.9L814.2 337.9M811.9 335.8L814.2 335.8M811.9 333.9L814.2 333.9M811.9 332.0L815.4 332.0M811.9 330.2L814.2 330.2M811.9 328.5L814.2 328.5M811.9 326.8L814.2 326.8M811.9 325.1L814.2 325.1M811.9 323.5L815.4 323.5M811.9 322.0L814.2 322.0M811.9 320.4L814.2 320.4M811.9 319.0L814.2 319.0M811.9 317.5L814.2 317.5M811.9 316.1L815.4 316.1M811.9 314.8L814.2 314.8M811.9 313.4L814.2 313.4M811.9 312.1L814.2 312.1M811.9 310.9L814.2 310.9M811.9 309.6L815.4 309.6M811.9 308.4L814.2 308.4M811.9 307.2L814.2 307.2M811.9 306.1L814.2 306.1M811.9 304.9L814.2 304.9M811.9 303.8L815.8 303.8M811.9 293.7L814.2 293.7M811.9 285.2L814.2 285.2M811.9 277.8L814.2 277.8M811.9 271.3L814.2 271.3M811.9 265.5L815.4 265.5M811.9 260.2L814.2 260.2M811.9 255.4L814.2 255.4M811.9 251.0L814.2 251.0M811.9 246.9L814.2 246.9M811.9 243.1L815.4 243.1M811.9 239.5L814.2 239.5M811.9 236.2L814.2 236.2M811.9 233.0L814.2 233.0M811.9 230.0L814.2 230.0M811.9 227.2L815.4 227.2M811.9 224.5L814.2 224.5M811.9 221.9L814.2 221.9M811.9 219.5L814.2 219.5M811.9 217.1L814.2 217.1M811.9 214.9L815.4 214.9M811.9 212.7L814.2 212.7M811.9 210.6L814.2 210.6M811.9 208.6L814.2 208.6M811.9 206.7L814.2 206.7M811.9 204.8L815.4 204.8M811.9 203.0L814.2 203.0M811.9 201.2L814.2 201.2M811.9 199.5L814.2 199.5M811.9 197.9L814.2 197.9M811.9 196.3L815.4 196.3M811.9 194.7L814.2 194.7M811.9 193.2L814.2 193.2M811.9 191.7L814.2 191.7M811.9 190.3L814.2 190.3M811.9 188.9L815.4 188.9M811.9 187.5L814.2 187.5M811.9 186.2L814.2 186.2M811.9 184.9L814.2 184.9M811.9 183.6L814.2 183.6M811.9 182.4L815.4 182.4M811.9 181.2L814.2 181.2M811.9 180.0L814.2 180.0M811.9 178.8L814.2 178.8M811.9 177.7L814.2 177.7M811.9 176.6L815.8 176.6M811.9 166.5L814.2 166.5M811.9 158.0L814.2 158.0M811.9 150.6L814.2 150.6M811.9 144.1L814.2 144.1M811.9 138.2L815.4 138.2M811.9 133.0L814.2 133.0M811.9 128.2L814.2 128.2M811.9 123.7L814.2 123.7M811.9 119.7L814.2 119.7M811.9 115.8L815.4 115.8M811.9 112.3L814.2 112.3M811.9 108.9L814.2 108.9M811.9 105.8L814.2 105.8M811.9 102.8L814.2 102.8M811.9 99.9L815.4 99.9M811.9 97.2L814.2 97.2M811.9 94.7L814.2 94.7M811.9 92.2L814.2 92.2M811.9 89.9L814.2 89.9M811.9 87.6L815.4 87.6M811.9 85.4L814.2 85.4M811.9 83.4L814.2 83.4M811.9 81.3L814.2 81.3M811.9 79.4L814.2 79.4M811.9 77.5L815.4 77.5M811.9 75.7L814.2 75.7M811.9 74.0L814.2 74.0M811.9 72.3L814.2 72.3M811.9 70.6L814.2 70.6M811.9 69.0L815.4 69.0M811.9 67.5L814.2 67.5M811.9 65.9L814.2 65.9M811.9 64.5L814.2 64.5M811.9 63.0L814.2 63.0M811.9 61.6L815.4 61.6M811.9 60.3L814.2 60.3M811.9 58.9L814.2 58.9M811.9 57.6L814.2 57.6M811.9 56.4L814.2 56.4M811.9 55.1L815.4 55.1M811.9 53.9L814.2 53.9M811.9 52.7L814.2 52.7M811.9 51.6L814.2 51.6M811.9 50.4L814.2 50.4M811.9 49.3L815.8 49.3M811.9 39.2L814.2 39.2M811.9 30.7L814.2 30.7M811.9 23.3L814.2 23.3M811.9 16.8L814.2 16.8M811.9 11.0L815.4 11.0M811.9 431.1L811.9 427.2M826.7 431.1L826.7 428.8M839.2 431.1L839.2 428.8M850.0 431.1L850.0 428.8M859.5 431.1L859.5 428.8M868.1 431.1L868.1 427.6M875.8 431.1L875.8 428.8M882.8 431.1L882.8 428.8M889.3 431.1L889.3 428.8M895.3 431.1L895.3 428.8M900.9 431.1L900.9 427.6M906.1 431.1L906.1 428.8M911.1 431.1L911.1 428.8M915.7 431.1L915.7 428.8M920.1 431.1L920.1 428.8M924.2 431.1L924.2 427.6M928.2 431.1L928.2 428.8M931.9 431.1L931.9 428.8M935.5 431.1L935.5 428.8M939.0 431.1L939.0 428.8M942.3 431.1L942.3 427.6M945.5 431.1L945.5 428.8M948.5 431.1L948.5 428.8M951.5 431.1L951.5 428.8M954.3 431.1L954.3 428.8M957.1 431.1L957.1 427.6M959.7 431.1L959.7 428.8M962.3 431.1L962.3 428.8M964.8 431.1L964.8 428.8M967.2 431.1L967.2 428.8M969.6 431.1L969.6 427.6M971.8 431.1L971.8 428.8M974.1 431.1L974.1 428.8M976.2 431.1L976.2 428.8M978.3 431.1L978.3 428.8M980.4 431.1L980.4 427.6M982.4 431.1L982.4 428.8M984.3 431.1L984.3 428.8M986.2 431.1L986.2 428.8M988.1 431.1L988.1 428.8M989.9 431.1L989.9 427.6M991.7 431.1L991.7 428.8M993.5 431.1L993.5 428.8M995.2 431.1L995.2 428.8M996.8 431.1L996.8 428.8M998.5 431.1L998.5 427.2M1013.2 431.1L1013.2 428.8M1025.7 431.1L1025.7 428.8M1036.5 431.1L1036.5 428.8M1046.1 431.1L1046.1 428.8M1054.6 431.1L1054.6 427.6M1062.4 431.1L1062.4 428.8M1069.4 431.1L1069.4 428.8M1075.9 431.1L1075.9 428.8M1081.9 431.1L1081.9 428.8M1087.5 431.1L1087.5 427.6M1092.7 431.1L1092.7 428.8M1097.6 431.1L1097.6 428.8M1102.3 431.1L1102.3 428.8M1106.6 431.1L1106.6 428.8M1110.8 431.1L1110.8 427.6M1114.7 431.1L1114.7 428.8M1118.5 431.1L1118.5 428.8M1122.1 431.1L1122.1 428.8M1125.6 431.1L1125.6 428.8M1128.9 431.1L1128.9 427.6M1132.0 431.1L1132.0 428.8M1135.1 431.1L1135.1 428.8M1138.1 431.1L1138.1 428.8M1140.9 431.1L1140.9 428.8M1143.6 431.1L1143.6 427.6M1146.3 431.1L1146.3 428.8M1148.9 431.1L1148.9 428.8M1151.4 431.1L1151.4 428.8M1153.8 431.1L1153.8 428.8M1156.1 431.1L1156.1 427.6M1158.4 431.1L1158.4 428.8M1160.6 431.1L1160.6 428.8M1162.8 431.1L1162.8 428.8M1164.9 431.1L1164.9 428.8M1167.0 431.1L1167.0 427.6M1169.0 431.1L1169.0 428.8M1170.9 431.1L1170.9 428.8M1172.8 431.1L1172.8 428.8M1174.7 431.1L1174.7 428.8M1176.5 431.1L1176.5 427.6M1178.3 431.1L1178.3 428.8M1180.0 431.1L1180.0 428.8M1181.7 431.1L1181.7 428.8M1183.4 431.1L1183.4 428.8M1185.0 431.1L1185.0 427.2M1199.8 431.1L1199.8 428.8M1212.3 431.1L1212.3 428.8M1223.1 431.1L1223.1 428.8M1232.7 431.1L1232.7 428.8M1241.2 431.1L1241.2 427.6M1248.9 431.1L1248.9 428.8M1256.0 431.1L1256.0 428.8M1262.5 431.1L1262.5 428.8M1268.5 431.1L1268.5 428.8M1274.0 431.1L1274.0 427.6M1279.3 431.1L1279.3 428.8M1284.2 431.1L1284.2 428.8M1288.8 431.1L1288.8 428.8M1293.2 431.1L1293.2 428.8M1297.4 431.1L1297.4 427.6M1301.3 431.1L1301.3 428.8M1305.1 431.1L1305.1 428.8M1308.7 431.1L1308.7 428.8M1312.1 431.1L1312.1 428.8M1315.4 431.1L1315.4 427.6M1318.6 431.1L1318.6 428.8M1321.7 431.1L1321.7 428.8M1324.6 431.1L1324.6 428.8M1327.5 431.1L1327.5 428.8M1330.2 431.1L1330.2 427.6M1332.9 431.1L1332.9 428.8M1335.4 431.1L1335.4 428.8M1337.9 431.1L1337.9 428.8M1340.4 431.1L1340.4 428.8M1342.7 431.1L1342.7 427.6M1345.0 431.1L1345.0 428.8M1347.2 431.1L1347.2 428.8M1349.4 431.1L1349.4 428.8M1351.5 431.1L1351.5 428.8M1353.5 431.1L1353.5 427.6M1355.5 431.1L1355.5 428.8M1357.5 431.1L1357.5 428.8M1359.4 431.1L1359.4 428.8M1361.2 431.1L1361.2 428.8M1363.1 431.1L1363.1 427.6M1364.8 431.1L1364.8 428.8M1366.6 431.1L1366.6 428.8M1368.3 431.1L1368.3 428.8M1370.0 431.1L1370.0 428.8M1371.6 431.1L1371.6 427.2M824.3 11.0L824.3 13.8M836.8 11.0L836.8 13.8M849.2 11.0L849.2 13.8M861.7 11.0L861.7 13.8M874.1 11.0L874.1 15.1M886.5 11.0L886.5 13.8M899.0 11.0L899.0 13.8M911.4 11.0L911.4 13.8M923.8 11.0L923.8 13.8M936.3 11.0L936.3 15.1M948.7 11.0L948.7 13.8M961.2 11.0L961.2 13.8M973.6 11.0L973.6 13.8M986.0 11.0L986.0 13.8M998.5 11.0L998.5 15.1M1010.9 11.0L1010.9 13.8M1023.3 11.0L1023.3 13.8M1035.8 11.0L1035.8 13.8M1048.2 11.0L1048.2 13.8M1060.7 11.0L1060.7 15.1M1073.1 11.0L1073.1 13.8M1085.5 11.0L1085.5 13.8M1098.0 11.0L1098.0 13.8M1110.4 11.0L1110.4 13.8M1122.8 11.0L1122.8 15.1M1135.3 11.0L1135.3 13.8M1147.7 11.0L1147.7 13.8M1160.2 11.0L1160.2 13.8M1172.6 11.0L1172.6 13.8M1185.0 11.0L1185.0 15.1M1197.5 11.0L1197.5 13.8M1209.9 11.0L1209.9 13.8M1222.3 11.0L1222.3 13.8M1234.8 11.0L1234.8 13.8M1247.2 11.0L1247.2 15.1M1259.7 11.0L1259.7 13.8M1272.1 11.0L1272.1 13.8M1284.5 11.0L1284.5 13.8M1297.0 11.0L1297.0 13.8M1309.4 11.0L1309.4 15.1M1321.8 11.0L1321.8 13.8M1334.3 11.0L1334.3 13.8M1346.7 11.0L1346.7 13.8M1359.2 11.0L1359.2 13.8M1371.6 37.3L1368.9 37.3M1371.6 63.5L1367.5 63.5M1371.6 89.8L1368.9 89.8M1371.6 116.0L1367.5 116.0M1371.6 142.3L1368.9 142.3M1371.6 168.5L1367.5 168.5M1371.6 194.8L1368.9 194.8M1371.6 221.0L1367.5 221.0M1371.6 247.3L1368.9 247.3M1371.6 273.5L1367.5 273.5M1371.6 299.8L1368.9 299.8M1371.6 326.0L1367.5 326.0M1371.6 352.3L1368.9 352.3M1371.6 378.5L1367.5 378.5M1371.6 404.8L1368.9 404.8" stroke="#000" stroke-width="1.1" fill="none"/>
<g transform="translate(749.30 56.40) scale(1.007 1)"><text font-size="24.2" x="13.46 26.91 40.37" y="0">000</text><path d="M763 0H583V1147Q518 1085 412.5 1023T223 930V1104Q374 1175 487 1276T647 1472H763Z" transform="translate(0.00 0) scale(0.01182 -0.01136)" fill="#000" stroke="#000" stroke-width="38.1" stroke-linejoin="round"/></g>
<g transform="translate(762.85 183.93) scale(1.007 1)"><text font-size="24.2" x="13.46 26.91" y="0">00</text><path d="M763 0H583V1147Q518 1085 412.5 1023T223 930V1104Q374 1175 487 1276T647 1472H763Z" transform="translate(0.00 0) scale(0.01182 -0.01136)" fill="#000" stroke="#000" stroke-width="38.1" stroke-linejoin="round"/></g>
<g transform="translate(776.40 311.46) scale(1.007 1)"><text font-size="24.2" x="13.46" y="0">0</text><path d="M763 0H583V1147Q518 1085 412.5 1023T223 930V1104Q374 1175 487 1276T647 1472H763Z" transform="translate(0.00 0) scale(0.01182 -0.01136)" fill="#000" stroke="#000" stroke-width="38.1" stroke-linejoin="round"/></g>
<g transform="translate(789.95 438.99) scale(1.007 1)"><path d="M763 0H583V1147Q518 1085 412.5 1023T223 930V1104Q374 1175 487 1276T647 1472H763Z" transform="translate(0.00 0) scale(0.01182 -0.01136)" fill="#000" stroke="#000" stroke-width="38.1" stroke-linejoin="round"/></g>
<g transform="translate(804.53 459.90) scale(1.007 1)"><path d="M763 0H583V1147Q518 1085 412.5 1023T223 930V1104Q374 1175 487 1276T647 1472H763Z" transform="translate(0.00 0) scale(0.01182 -0.01136)" fill="#000" stroke="#000" stroke-width="38.1" stroke-linejoin="round"/></g>
<g transform="translate(984.32 459.90) scale(1.007 1)"><text font-size="24.2" x="13.46" y="0">0</text><path d="M763 0H583V1147Q518 1085 412.5 1023T223 930V1104Q374 1175 487 1276T647 1472H763Z" transform="translate(0.00 0) scale(0.01182 -0.01136)" fill="#000" stroke="#000" stroke-width="38.1" stroke-linejoin="round"/></g>
<g transform="translate(1164.11 459.90) scale(1.007 1)"><text font-size="24.2" x="13.46 26.91" y="0">00</text><path d="M763 0H583V1147Q518 1085 412.5 1023T223 930V1104Q374 1175 487 1276T647 1472H763Z" transform="translate(0.00 0) scale(0.01182 -0.01136)" fill="#000" stroke="#000" stroke-width="38.1" stroke-linejoin="round"/></g>
<g transform="translate(1343.90 459.90) scale(1.007 1)"><text font-size="24.2" x="13.46 26.91 40.37" y="0">000</text><path d="M763 0H583V1147Q518 1085 412.5 1023T223 930V1104Q374 1175 487 1276T647 1472H763Z" transform="translate(0.00 0) scale(0.01182 -0.01136)" fill="#000" stroke="#000" stroke-width="38.1" stroke-linejoin="round"/></g>
<text font-size="28.2" text-anchor="start" transform="translate(1213.60 243.70) scale(0.948 1)" >P-limitation</text>
<text font-size="37.5" text-anchor="start" font-weight="bold" transform="translate(821.70 51.00) scale(0.975 1)" style="stroke:none">B</text>
<text font-size="28.2" text-anchor="start" transform="translate(1046.80 500.10) scale(0.974 1)" >Si/SRP</text>
<text font-size="28.2" text-anchor="start" transform="translate(732.70 276.10) rotate(-90) scale(0.966 1)" >DIN/SRP</text>
<line x1="102.30" y1="836.80" x2="659.20" y2="836.80" stroke="#000" stroke-width="1.55" />
<line x1="473.90" y1="544.05" x2="473.90" y2="963.80" stroke="#000" stroke-width="1.55" />
<rect x="240.45" y="632.20" width="12.6" height="12.6" fill="#000"/>
<rect x="216.45" y="736.20" width="12.6" height="12.6" fill="#000"/>
<rect x="346.20" y="647.45" width="12.6" height="12.6" fill="#000"/>
<rect x="432.70" y="621.95" width="12.6" height="12.6" fill="#000"/>
<rect x="436.95" y="656.20" width="12.6" height="12.6" fill="#000"/>
<rect x="455.20" y="686.70" width="12.6" height="12.6" fill="#000"/>
<rect x="379.70" y="804.20" width="12.6" height="12.6" fill="#000"/>
<rect x="471.65" y="821.10" width="12.6" height="12.6" fill="#000"/>
<rect x="590.95" y="819.70" width="12.6" height="12.6" fill="#000"/>
<rect x="126.58" y="594.08" width="11.85" height="11.85" fill="#fff" stroke="#000" stroke-width="1.15"/>
<rect x="111.08" y="643.33" width="11.85" height="11.85" fill="#fff" stroke="#000" stroke-width="1.15"/>
<rect x="448.32" y="670.08" width="11.85" height="11.85" fill="#fff" stroke="#000" stroke-width="1.15"/>
<rect x="475.07" y="659.58" width="11.85" height="11.85" fill="#fff" stroke="#000" stroke-width="1.15"/>
<rect x="547.33" y="723.08" width="11.85" height="11.85" fill="#fff" stroke="#000" stroke-width="1.15"/>
<rect x="560.58" y="809.08" width="11.85" height="11.85" fill="#fff" stroke="#000" stroke-width="1.15"/>
<circle cx="265.00" cy="738.25" r="6.4" fill="#000"/>
<circle cx="443.25" cy="598.25" r="6.4" fill="#000"/>
<circle cx="458.50" cy="668.75" r="6.4" fill="#000"/>
<circle cx="505.00" cy="673.25" r="6.4" fill="#000"/>
<circle cx="511.25" cy="705.00" r="6.4" fill="#000"/>
<circle cx="482.50" cy="724.50" r="6.4" fill="#000"/>
<circle cx="515.75" cy="769.50" r="6.4" fill="#000"/>
<circle cx="487.20" cy="813.30" r="6.4" fill="#000"/>
<circle cx="623.00" cy="949.00" r="6.4" fill="#000"/>
<path d="M163.50 570.10L170.80 562.80L178.10 570.10L170.80 577.40Z" fill="#000"/>
<path d="M214.70 729.50L222.00 722.20L229.30 729.50L222.00 736.80Z" fill="#000"/>
<path d="M386.95 647.00L394.25 639.70L401.55 647.00L394.25 654.30Z" fill="#000"/>
<path d="M386.95 663.25L394.25 655.95L401.55 663.25L394.25 670.55Z" fill="#000"/>
<path d="M484.70 737.00L492.00 729.70L499.30 737.00L492.00 744.30Z" fill="#000"/>
<path d="M405.20 826.50L412.50 819.20L419.80 826.50L412.50 833.80Z" fill="#000"/>
<path d="M293.20 639.35L305.80 639.35L299.50 626.05Z" fill="#000"/>
<path d="M315.95 722.10L328.55 722.10L322.25 708.80Z" fill="#000"/>
<path d="M452.20 686.35L464.80 686.35L458.50 673.05Z" fill="#000"/>
<path d="M444.70 719.35L457.30 719.35L451.00 706.05Z" fill="#000"/>
<path d="M396.45 752.10L409.05 752.10L402.75 738.80Z" fill="#000"/>
<path d="M474.70 758.10L487.30 758.10L481.00 744.80Z" fill="#000"/>
<path d="M244.25 679.60L255.75 679.60L250.00 667.50Z" fill="#fff" stroke="#000" stroke-width="1.1" stroke-linejoin="miter"/>
<path d="M437.50 648.35L449.00 648.35L443.25 636.25Z" fill="#fff" stroke="#000" stroke-width="1.1" stroke-linejoin="miter"/>
<path d="M419.50 732.35L431.00 732.35L425.25 720.25Z" fill="#fff" stroke="#000" stroke-width="1.1" stroke-linejoin="miter"/>
<path d="M550.50 733.85L562.00 733.85L556.25 721.75Z" fill="#fff" stroke="#000" stroke-width="1.1" stroke-linejoin="miter"/>
<path d="M464.75 769.60L476.25 769.60L470.50 757.50Z" fill="#fff" stroke="#000" stroke-width="1.1" stroke-linejoin="miter"/>
<path d="M454.25 798.85L465.75 798.85L460.00 786.75Z" fill="#fff" stroke="#000" stroke-width="1.1" stroke-linejoin="miter"/>
<line x1="102.30" y1="543.20" x2="102.30" y2="964.70" stroke="#000" stroke-width="1.8" />
<line x1="659.20" y1="543.20" x2="659.20" y2="964.70" stroke="#000" stroke-width="1.8" />
<line x1="101.40" y1="544.05" x2="660.10" y2="544.05" stroke="#000" stroke-width="1.7" />
<line x1="101.40" y1="963.80" x2="660.10" y2="963.80" stroke="#000" stroke-width="1.8" />
<path d="M102.3 963.8L106.2 963.8M102.3 953.7L104.6 953.7M102.3 945.2L104.6 945.2M102.3 937.8L104.6 937.8M102.3 931.3L104.6 931.3M102.3 925.5L105.8 925.5M102.3 920.3L104.6 920.3M102.3 915.5L104.6 915.5M102.3 911.0L104.6 911.0M102.3 906.9L104.6 906.9M102.3 903.1L105.8 903.1M102.3 899.6L104.6 899.6M102.3 896.2L104.6 896.2M102.3 893.1L104.6 893.1M102.3 890.1L104.6 890.1M102.3 887.2L105.8 887.2M102.3 884.5L104.6 884.5M102.3 882.0L104.6 882.0M102.3 879.5L104.6 879.5M102.3 877.2L104.6 877.2M102.3 874.9L105.8 874.9M102.3 872.8L104.6 872.8M102.3 870.7L104.6 870.7M102.3 868.7L104.6 868.7M102.3 866.7L104.6 866.7M102.3 864.9L105.8 864.9M102.3 863.0L104.6 863.0M102.3 861.3L104.6 861.3M102.3 859.6L104.6 859.6M102.3 857.9L104.6 857.9M102.3 856.3L105.8 856.3M102.3 854.8L104.6 854.8M102.3 853.3L104.6 853.3M102.3 851.8L104.6 851.8M102.3 850.4L104.6 850.4M102.3 849.0L105.8 849.0M102.3 847.6L104.6 847.6M102.3 846.3L104.6 846.3M102.3 845.0L104.6 845.0M102.3 843.7L104.6 843.7M102.3 842.5L105.8 842.5M102.3 841.2L104.6 841.2M102.3 840.1L104.6 840.1M102.3 838.9L104.6 838.9M102.3 837.8L104.6 837.8M102.3 836.6L106.2 836.6M102.3 826.6L104.6 826.6M102.3 818.1L104.6 818.1M102.3 810.7L104.6 810.7M102.3 804.2L104.6 804.2M102.3 798.4L105.8 798.4M102.3 793.1L104.6 793.1M102.3 788.3L104.6 788.3M102.3 783.9L104.6 783.9M102.3 779.8L104.6 779.8M102.3 776.0L105.8 776.0M102.3 772.4L104.6 772.4M102.3 769.1L104.6 769.1M102.3 765.9L104.6 765.9M102.3 762.9L104.6 762.9M102.3 760.1L105.8 760.1M102.3 757.4L104.6 757.4M102.3 754.8L104.6 754.8M102.3 752.4L104.6 752.4M102.3 750.0L104.6 750.0M102.3 747.8L105.8 747.8M102.3 745.6L104.6 745.6M102.3 743.5L104.6 743.5M102.3 741.5L104.6 741.5M102.3 739.6L104.6 739.6M102.3 737.7L105.8 737.7M102.3 735.9L104.6 735.9M102.3 734.1L104.6 734.1M102.3 732.4L104.6 732.4M102.3 730.8L104.6 730.8M102.3 729.2L105.8 729.2M102.3 727.6L104.6 727.6M102.3 726.1L104.6 726.1M102.3 724.6L104.6 724.6M102.3 723.2L104.6 723.2M102.3 721.8L105.8 721.8M102.3 720.4L104.6 720.4M102.3 719.1L104.6 719.1M102.3 717.8L104.6 717.8M102.3 716.5L104.6 716.5M102.3 715.3L105.8 715.3M102.3 714.1L104.6 714.1M102.3 712.9L104.6 712.9M102.3 711.7L104.6 711.7M102.3 710.6L104.6 710.6M102.3 709.5L106.2 709.5M102.3 699.4L104.6 699.4M102.3 690.9L104.6 690.9M102.3 683.5L104.6 683.5M102.3 677.0L104.6 677.0M102.3 671.2L105.8 671.2M102.3 665.9L104.6 665.9M102.3 661.1L104.6 661.1M102.3 656.7L104.6 656.7M102.3 652.6L104.6 652.6M102.3 648.8L105.8 648.8M102.3 645.3L104.6 645.3M102.3 641.9L104.6 641.9M102.3 638.7L104.6 638.7M102.3 635.8L104.6 635.8M102.3 632.9L105.8 632.9M102.3 630.2L104.6 630.2M102.3 627.7L104.6 627.7M102.3 625.2L104.6 625.2M102.3 622.9L104.6 622.9M102.3 620.6L105.8 620.6M102.3 618.4L104.6 618.4M102.3 616.4L104.6 616.4M102.3 614.3L104.6 614.3M102.3 612.4L104.6 612.4M102.3 610.5L105.8 610.5M102.3 608.7L104.6 608.7M102.3 607.0L104.6 607.0M102.3 605.3L104.6 605.3M102.3 603.6L104.6 603.6M102.3 602.0L105.8 602.0M102.3 600.5L104.6 600.5M102.3 599.0L104.6 599.0M102.3 597.5L104.6 597.5M102.3 596.0L104.6 596.0M102.3 594.7L105.8 594.7M102.3 593.3L104.6 593.3M102.3 592.0L104.6 592.0M102.3 590.7L104.6 590.7M102.3 589.4L104.6 589.4M102.3 588.1L105.8 588.1M102.3 586.9L104.6 586.9M102.3 585.7L104.6 585.7M102.3 584.6L104.6 584.6M102.3 583.4L104.6 583.4M102.3 582.3L106.2 582.3M102.3 572.3L104.6 572.3M102.3 563.7L104.6 563.7M102.3 556.4L104.6 556.4M102.3 549.9L104.6 549.9M102.3 544.0L105.8 544.0M102.3 963.8L102.3 959.9M117.0 963.8L117.0 961.5M129.4 963.8L129.4 961.5M140.2 963.8L140.2 961.5M149.7 963.8L149.7 961.5M158.2 963.8L158.2 960.3M165.9 963.8L165.9 961.5M172.9 963.8L172.9 961.5M179.3 963.8L179.3 961.5M185.3 963.8L185.3 961.5M190.9 963.8L190.9 960.3M196.1 963.8L196.1 961.5M201.0 963.8L201.0 961.5M205.6 963.8L205.6 961.5M209.9 963.8L209.9 961.5M214.1 963.8L214.1 960.3M218.0 963.8L218.0 961.5M221.7 963.8L221.7 961.5M225.3 963.8L225.3 961.5M228.8 963.8L228.8 961.5M232.1 963.8L232.1 960.3M235.2 963.8L235.2 961.5M238.3 963.8L238.3 961.5M241.2 963.8L241.2 961.5M244.0 963.8L244.0 961.5M246.8 963.8L246.8 960.3M249.4 963.8L249.4 961.5M252.0 963.8L252.0 961.5M254.4 963.8L254.4 961.5M256.8 963.8L256.8 961.5M259.2 963.8L259.2 960.3M261.4 963.8L261.4 961.5M263.7 963.8L263.7 961.5M265.8 963.8L265.8 961.5M267.9 963.8L267.9 961.5M269.9 963.8L269.9 960.3M271.9 963.8L271.9 961.5M273.9 963.8L273.9 961.5M275.8 963.8L275.8 961.5M277.6 963.8L277.6 961.5M279.4 963.8L279.4 960.3M281.2 963.8L281.2 961.5M282.9 963.8L282.9 961.5M284.6 963.8L284.6 961.5M286.3 963.8L286.3 961.5M287.9 963.8L287.9 959.9M302.6 963.8L302.6 961.5M315.1 963.8L315.1 961.5M325.8 963.8L325.8 961.5M335.3 963.8L335.3 961.5M343.8 963.8L343.8 960.3M351.5 963.8L351.5 961.5M358.5 963.8L358.5 961.5M365.0 963.8L365.0 961.5M370.9 963.8L370.9 961.5M376.5 963.8L376.5 960.3M381.7 963.8L381.7 961.5M386.6 963.8L386.6 961.5M391.2 963.8L391.2 961.5M395.6 963.8L395.6 961.5M399.7 963.8L399.7 960.3M403.6 963.8L403.6 961.5M407.4 963.8L407.4 961.5M411.0 963.8L411.0 961.5M414.4 963.8L414.4 961.5M417.7 963.8L417.7 960.3M420.8 963.8L420.8 961.5M423.9 963.8L423.9 961.5M426.8 963.8L426.8 961.5M429.7 963.8L429.7 961.5M432.4 963.8L432.4 960.3M435.0 963.8L435.0 961.5M437.6 963.8L437.6 961.5M440.1 963.8L440.1 961.5M442.5 963.8L442.5 961.5M444.8 963.8L444.8 960.3M447.1 963.8L447.1 961.5M449.3 963.8L449.3 961.5M451.4 963.8L451.4 961.5M453.5 963.8L453.5 961.5M455.6 963.8L455.6 960.3M457.6 963.8L457.6 961.5M459.5 963.8L459.5 961.5M461.4 963.8L461.4 961.5M463.3 963.8L463.3 961.5M465.1 963.8L465.1 960.3M466.8 963.8L466.8 961.5M468.6 963.8L468.6 961.5M470.3 963.8L470.3 961.5M471.9 963.8L471.9 961.5M473.6 963.8L473.6 959.9M488.3 963.8L488.3 961.5M500.7 963.8L500.7 961.5M511.5 963.8L511.5 961.5M521.0 963.8L521.0 961.5M529.4 963.8L529.4 960.3M537.1 963.8L537.1 961.5M544.1 963.8L544.1 961.5M550.6 963.8L550.6 961.5M556.6 963.8L556.6 961.5M562.1 963.8L562.1 960.3M567.3 963.8L567.3 961.5M572.2 963.8L572.2 961.5M576.8 963.8L576.8 961.5M581.2 963.8L581.2 961.5M585.3 963.8L585.3 960.3M589.3 963.8L589.3 961.5M593.0 963.8L593.0 961.5M596.6 963.8L596.6 961.5M600.0 963.8L600.0 961.5M603.3 963.8L603.3 960.3M606.5 963.8L606.5 961.5M609.5 963.8L609.5 961.5M612.5 963.8L612.5 961.5M615.3 963.8L615.3 961.5M618.0 963.8L618.0 960.3M620.7 963.8L620.7 961.5M623.2 963.8L623.2 961.5M625.7 963.8L625.7 961.5M628.1 963.8L628.1 961.5M630.4 963.8L630.4 960.3M632.7 963.8L632.7 961.5M634.9 963.8L634.9 961.5M637.1 963.8L637.1 961.5M639.2 963.8L639.2 961.5M641.2 963.8L641.2 960.3M643.2 963.8L643.2 961.5M645.1 963.8L645.1 961.5M647.0 963.8L647.0 961.5M648.9 963.8L648.9 961.5M650.7 963.8L650.7 960.3M652.5 963.8L652.5 961.5M654.2 963.8L654.2 961.5M655.9 963.8L655.9 961.5M657.6 963.8L657.6 961.5M659.2 963.8L659.2 959.9M119.7 544.0L119.7 546.8M137.1 544.0L137.1 546.8M154.5 544.0L154.5 546.8M171.9 544.0L171.9 548.1M189.3 544.0L189.3 546.8M206.7 544.0L206.7 546.8M224.1 544.0L224.1 546.8M241.5 544.0L241.5 548.1M258.9 544.0L258.9 546.8M276.3 544.0L276.3 546.8M293.7 544.0L293.7 546.8M311.1 544.0L311.1 548.1M328.5 544.0L328.5 546.8M345.9 544.0L345.9 546.8M363.3 544.0L363.3 546.8M380.8 544.0L380.8 548.1M398.2 544.0L398.2 546.8M415.6 544.0L415.6 546.8M433.0 544.0L433.0 546.8M450.4 544.0L450.4 548.1M467.8 544.0L467.8 546.8M485.2 544.0L485.2 546.8M502.6 544.0L502.6 546.8M520.0 544.0L520.0 548.1M537.4 544.0L537.4 546.8M554.8 544.0L554.8 546.8M572.2 544.0L572.2 546.8M589.6 544.0L589.6 548.1M607.0 544.0L607.0 546.8M624.4 544.0L624.4 546.8M641.8 544.0L641.8 546.8M659.2 570.3L656.5 570.3M659.2 596.5L655.1 596.5M659.2 622.8L656.5 622.8M659.2 649.0L655.1 649.0M659.2 675.2L656.5 675.2M659.2 701.5L655.1 701.5M659.2 727.7L656.5 727.7M659.2 753.9L655.1 753.9M659.2 780.2L656.5 780.2M659.2 806.4L655.1 806.4M659.2 832.6L656.5 832.6M659.2 858.9L655.1 858.9M659.2 885.1L656.5 885.1M659.2 911.3L655.1 911.3M659.2 937.6L656.5 937.6" stroke="#000" stroke-width="1.1" fill="none"/>
<g transform="translate(40.00 589.50) scale(1.007 1)"><text font-size="24.2" x="13.46 26.91 40.37" y="0">000</text><path d="M763 0H583V1147Q518 1085 412.5 1023T223 930V1104Q374 1175 487 1276T647 1472H763Z" transform="translate(0.00 0) scale(0.01182 -0.01136)" fill="#000" stroke="#000" stroke-width="38.1" stroke-linejoin="round"/></g>
<g transform="translate(53.55 716.80) scale(1.007 1)"><text font-size="24.2" x="13.46 26.91" y="0">00</text><path d="M763 0H583V1147Q518 1085 412.5 1023T223 930V1104Q374 1175 487 1276T647 1472H763Z" transform="translate(0.00 0) scale(0.01182 -0.01136)" fill="#000" stroke="#000" stroke-width="38.1" stroke-linejoin="round"/></g>
<g transform="translate(67.10 844.10) scale(1.007 1)"><text font-size="24.2" x="13.46" y="0">0</text><path d="M763 0H583V1147Q518 1085 412.5 1023T223 930V1104Q374 1175 487 1276T647 1472H763Z" transform="translate(0.00 0) scale(0.01182 -0.01136)" fill="#000" stroke="#000" stroke-width="38.1" stroke-linejoin="round"/></g>
<g transform="translate(80.65 971.40) scale(1.007 1)"><path d="M763 0H583V1147Q518 1085 412.5 1023T223 930V1104Q374 1175 487 1276T647 1472H763Z" transform="translate(0.00 0) scale(0.01182 -0.01136)" fill="#000" stroke="#000" stroke-width="38.1" stroke-linejoin="round"/></g>
<g transform="translate(78.19 992.50) scale(1.007 1)"><text font-size="24.2" x="0.00 13.46 20.18" y="0">0.0</text><path d="M763 0H583V1147Q518 1085 412.5 1023T223 930V1104Q374 1175 487 1276T647 1472H763Z" transform="translate(33.64 0) scale(0.01182 -0.01136)" fill="#000" stroke="#000" stroke-width="38.1" stroke-linejoin="round"/></g>
<g transform="translate(263.82 992.50) scale(1.007 1)"><text font-size="24.2" x="0.00 13.46 33.64" y="0">0.0</text><path d="M763 0H583V1147Q518 1085 412.5 1023T223 930V1104Q374 1175 487 1276T647 1472H763Z" transform="translate(20.18 0) scale(0.01182 -0.01136)" fill="#000" stroke="#000" stroke-width="38.1" stroke-linejoin="round"/></g>
<g transform="translate(449.46 992.50) scale(1.007 1)"><text font-size="24.2" x="13.46 20.18 33.64" y="0">.00</text><path d="M763 0H583V1147Q518 1085 412.5 1023T223 930V1104Q374 1175 487 1276T647 1472H763Z" transform="translate(0.00 0) scale(0.01182 -0.01136)" fill="#000" stroke="#000" stroke-width="38.1" stroke-linejoin="round"/></g>
<g transform="translate(628.31 992.50) scale(1.007 1)"><text font-size="24.2" x="13.46 26.91 33.64 47.09" y="0">0.00</text><path d="M763 0H583V1147Q518 1085 412.5 1023T223 930V1104Q374 1175 487 1276T647 1472H763Z" transform="translate(0.00 0) scale(0.01182 -0.01136)" fill="#000" stroke="#000" stroke-width="38.1" stroke-linejoin="round"/></g>
<text font-size="28.2" text-anchor="start" transform="translate(497.00 888.70) scale(0.946 1)" >N-limitation</text>
<text font-size="40.5" text-anchor="start" font-weight="bold" transform="translate(114.60 583.00) scale(0.9 1)" style="stroke:none">C</text>
<text font-size="28.2" text-anchor="start" transform="translate(341.15 1032.70) scale(0.955 1)" >Si/DIN</text>
<text font-size="28.2" text-anchor="start" transform="translate(23.20 809.00) rotate(-90) scale(0.964 1)" >DIN/SRP</text>
<line x1="811.80" y1="822.40" x2="1368.65" y2="822.40" stroke="#000" stroke-width="1.55" />
<line x1="1183.30" y1="543.85" x2="1183.30" y2="961.95" stroke="#000" stroke-width="1.55" />
<rect x="1141.95" y="614.95" width="12.6" height="12.6" fill="#000"/>
<rect x="1146.45" y="648.20" width="12.6" height="12.6" fill="#000"/>
<rect x="1164.70" y="667.70" width="12.6" height="12.6" fill="#000"/>
<rect x="1055.70" y="704.95" width="12.6" height="12.6" fill="#000"/>
<rect x="1300.45" y="709.20" width="12.6" height="12.6" fill="#000"/>
<rect x="950.20" y="770.95" width="12.6" height="12.6" fill="#000"/>
<rect x="1181.20" y="802.95" width="12.6" height="12.6" fill="#000"/>
<rect x="1089.20" y="853.95" width="12.6" height="12.6" fill="#000"/>
<rect x="925.95" y="900.95" width="12.6" height="12.6" fill="#000"/>
<rect x="1184.33" y="622.83" width="11.85" height="11.85" fill="#fff" stroke="#000" stroke-width="1.15"/>
<rect x="1256.58" y="638.08" width="11.85" height="11.85" fill="#fff" stroke="#000" stroke-width="1.15"/>
<rect x="1157.33" y="656.08" width="11.85" height="11.85" fill="#fff" stroke="#000" stroke-width="1.15"/>
<rect x="1270.33" y="721.58" width="11.85" height="11.85" fill="#fff" stroke="#000" stroke-width="1.15"/>
<rect x="836.08" y="812.33" width="11.85" height="11.85" fill="#fff" stroke="#000" stroke-width="1.15"/>
<rect x="820.83" y="878.33" width="11.85" height="11.85" fill="#fff" stroke="#000" stroke-width="1.15"/>
<circle cx="1152.75" cy="583.75" r="6.4" fill="#000"/>
<circle cx="1214.50" cy="618.25" r="6.4" fill="#000"/>
<circle cx="1167.75" cy="648.25" r="6.4" fill="#000"/>
<circle cx="1220.50" cy="649.75" r="6.4" fill="#000"/>
<circle cx="1191.75" cy="691.75" r="6.4" fill="#000"/>
<circle cx="1225.00" cy="717.50" r="6.4" fill="#000"/>
<circle cx="1196.50" cy="786.75" r="6.4" fill="#000"/>
<circle cx="1332.00" cy="833.50" r="6.4" fill="#000"/>
<circle cx="974.25" cy="872.25" r="6.4" fill="#000"/>
<path d="M1096.45 672.75L1103.75 665.45L1111.05 672.75L1103.75 680.05Z" fill="#000"/>
<path d="M1096.45 691.25L1103.75 683.95L1111.05 691.25L1103.75 698.55Z" fill="#000"/>
<path d="M1193.70 698.50L1201.00 691.20L1208.30 698.50L1201.00 705.80Z" fill="#000"/>
<path d="M872.95 758.75L880.25 751.45L887.55 758.75L880.25 766.05Z" fill="#000"/>
<path d="M1114.45 858.25L1121.75 850.95L1129.05 858.25L1121.75 865.55Z" fill="#000"/>
<path d="M924.45 894.00L931.75 886.70L939.05 894.00L931.75 901.30Z" fill="#000"/>
<path d="M1161.45 669.35L1174.05 669.35L1167.75 656.05Z" fill="#000"/>
<path d="M1153.95 710.85L1166.55 710.85L1160.25 697.55Z" fill="#000"/>
<path d="M1183.95 730.10L1196.55 730.10L1190.25 716.80Z" fill="#000"/>
<path d="M1002.95 735.85L1015.55 735.85L1009.25 722.55Z" fill="#000"/>
<path d="M1105.70 784.35L1118.30 784.35L1112.00 771.05Z" fill="#000"/>
<path d="M1025.70 810.35L1038.30 810.35L1032.00 797.05Z" fill="#000"/>
<path d="M1147.00 638.35L1158.50 638.35L1152.75 626.25Z" fill="#fff" stroke="#000" stroke-width="1.1" stroke-linejoin="miter"/>
<path d="M1260.00 647.35L1271.50 647.35L1265.75 635.25Z" fill="#fff" stroke="#000" stroke-width="1.1" stroke-linejoin="miter"/>
<path d="M1129.00 744.60L1140.50 744.60L1134.75 732.50Z" fill="#fff" stroke="#000" stroke-width="1.1" stroke-linejoin="miter"/>
<path d="M1174.25 752.85L1185.75 752.85L1180.00 740.75Z" fill="#fff" stroke="#000" stroke-width="1.1" stroke-linejoin="miter"/>
<path d="M1163.75 791.85L1175.25 791.85L1169.50 779.75Z" fill="#fff" stroke="#000" stroke-width="1.1" stroke-linejoin="miter"/>
<path d="M953.75 817.35L965.25 817.35L959.50 805.25Z" fill="#fff" stroke="#000" stroke-width="1.1" stroke-linejoin="miter"/>
<line x1="811.80" y1="543.00" x2="811.80" y2="962.90" stroke="#000" stroke-width="1.75" />
<line x1="1368.65" y1="543.00" x2="1368.65" y2="962.90" stroke="#000" stroke-width="1.75" />
<line x1="810.92" y1="543.85" x2="1369.53" y2="543.85" stroke="#000" stroke-width="1.7" />
<line x1="810.92" y1="961.95" x2="1369.53" y2="961.95" stroke="#000" stroke-width="1.9" />
<path d="M811.8 962.0L815.7 962.0M811.8 950.9L814.1 950.9M811.8 941.6L814.1 941.6M811.8 933.5L814.1 933.5M811.8 926.4L814.1 926.4M811.8 920.0L815.3 920.0M811.8 914.2L814.1 914.2M811.8 909.0L814.1 909.0M811.8 904.1L814.1 904.1M811.8 899.6L814.1 899.6M811.8 895.5L815.3 895.5M811.8 891.5L814.1 891.5M811.8 887.9L814.1 887.9M811.8 884.4L814.1 884.4M811.8 881.1L814.1 881.1M811.8 878.0L815.3 878.0M811.8 875.1L814.1 875.1M811.8 872.3L814.1 872.3M811.8 869.6L814.1 869.6M811.8 867.0L814.1 867.0M811.8 864.5L815.3 864.5M811.8 862.2L814.1 862.2M811.8 859.9L814.1 859.9M811.8 857.7L814.1 857.7M811.8 855.6L814.1 855.6M811.8 853.5L815.3 853.5M811.8 851.5L814.1 851.5M811.8 849.6L814.1 849.6M811.8 847.7L814.1 847.7M811.8 845.9L814.1 845.9M811.8 844.2L815.3 844.2M811.8 842.5L814.1 842.5M811.8 840.8L814.1 840.8M811.8 839.2L814.1 839.2M811.8 837.6L814.1 837.6M811.8 836.1L815.3 836.1M811.8 834.6L814.1 834.6M811.8 833.1L814.1 833.1M811.8 831.7L814.1 831.7M811.8 830.3L814.1 830.3M811.8 829.0L815.3 829.0M811.8 827.6L814.1 827.6M811.8 826.3L814.1 826.3M811.8 825.1L814.1 825.1M811.8 823.8L814.1 823.8M811.8 822.6L815.7 822.6M811.8 811.5L814.1 811.5M811.8 802.2L814.1 802.2M811.8 794.1L814.1 794.1M811.8 787.0L814.1 787.0M811.8 780.6L815.3 780.6M811.8 774.9L814.1 774.9M811.8 769.6L814.1 769.6M811.8 764.7L814.1 764.7M811.8 760.3L814.1 760.3M811.8 756.1L815.3 756.1M811.8 752.2L814.1 752.2M811.8 748.5L814.1 748.5M811.8 745.1L814.1 745.1M811.8 741.8L814.1 741.8M811.8 738.7L815.3 738.7M811.8 735.7L814.1 735.7M811.8 732.9L814.1 732.9M811.8 730.2L814.1 730.2M811.8 727.6L814.1 727.6M811.8 725.2L815.3 725.2M811.8 722.8L814.1 722.8M811.8 720.5L814.1 720.5M811.8 718.3L814.1 718.3M811.8 716.2L814.1 716.2M811.8 714.1L815.3 714.1M811.8 712.2L814.1 712.2M811.8 710.2L814.1 710.2M811.8 708.4L814.1 708.4M811.8 706.6L814.1 706.6M811.8 704.8L815.3 704.8M811.8 703.1L814.1 703.1M811.8 701.4L814.1 701.4M811.8 699.8L814.1 699.8M811.8 698.3L814.1 698.3M811.8 696.7L815.3 696.7M811.8 695.2L814.1 695.2M811.8 693.8L814.1 693.8M811.8 692.3L814.1 692.3M811.8 691.0L814.1 691.0M811.8 689.6L815.3 689.6M811.8 688.3L814.1 688.3M811.8 687.0L814.1 687.0M811.8 685.7L814.1 685.7M811.8 684.4L814.1 684.4M811.8 683.2L815.7 683.2M811.8 672.2L814.1 672.2M811.8 662.9L814.1 662.9M811.8 654.8L814.1 654.8M811.8 647.6L814.1 647.6M811.8 641.3L815.3 641.3M811.8 635.5L814.1 635.5M811.8 630.2L814.1 630.2M811.8 625.4L814.1 625.4M811.8 620.9L814.1 620.9M811.8 616.7L815.3 616.7M811.8 612.8L814.1 612.8M811.8 609.1L814.1 609.1M811.8 605.7L814.1 605.7M811.8 602.4L814.1 602.4M811.8 599.3L815.3 599.3M811.8 596.4L814.1 596.4M811.8 593.5L814.1 593.5M811.8 590.9L814.1 590.9M811.8 588.3L814.1 588.3M811.8 585.8L815.3 585.8M811.8 583.4L814.1 583.4M811.8 581.1L814.1 581.1M811.8 578.9L814.1 578.9M811.8 576.8L814.1 576.8M811.8 574.8L815.3 574.8M811.8 572.8L814.1 572.8M811.8 570.9L814.1 570.9M811.8 569.0L814.1 569.0M811.8 567.2L814.1 567.2M811.8 565.4L815.3 565.4M811.8 563.7L814.1 563.7M811.8 562.1L814.1 562.1M811.8 560.5L814.1 560.5M811.8 558.9L814.1 558.9M811.8 557.4L815.3 557.4M811.8 555.9L814.1 555.9M811.8 554.4L814.1 554.4M811.8 553.0L814.1 553.0M811.8 551.6L814.1 551.6M811.8 550.2L815.3 550.2M811.8 548.9L814.1 548.9M811.8 547.6L814.1 547.6M811.8 546.3L814.1 546.3M811.8 545.1L814.1 545.1M811.8 543.9L815.7 543.9M811.8 962.0L811.8 958.1M826.5 962.0L826.5 959.7M838.9 962.0L838.9 959.7M849.7 962.0L849.7 959.7M859.2 962.0L859.2 959.7M867.7 962.0L867.7 958.5M875.4 962.0L875.4 959.7M882.4 962.0L882.4 959.7M888.8 962.0L888.8 959.7M894.8 962.0L894.8 959.7M900.4 962.0L900.4 958.5M905.6 962.0L905.6 959.7M910.5 962.0L910.5 959.7M915.1 962.0L915.1 959.7M919.4 962.0L919.4 959.7M923.6 962.0L923.6 958.5M927.5 962.0L927.5 959.7M931.2 962.0L931.2 959.7M934.8 962.0L934.8 959.7M938.2 962.0L938.2 959.7M941.5 962.0L941.5 958.5M944.7 962.0L944.7 959.7M947.7 962.0L947.7 959.7M950.7 962.0L950.7 959.7M953.5 962.0L953.5 959.7M956.2 962.0L956.2 958.5M958.9 962.0L958.9 959.7M961.4 962.0L961.4 959.7M963.9 962.0L963.9 959.7M966.3 962.0L966.3 959.7M968.7 962.0L968.7 958.5M970.9 962.0L970.9 959.7M973.1 962.0L973.1 959.7M975.3 962.0L975.3 959.7M977.4 962.0L977.4 959.7M979.4 962.0L979.4 958.5M981.4 962.0L981.4 959.7M983.4 962.0L983.4 959.7M985.3 962.0L985.3 959.7M987.1 962.0L987.1 959.7M988.9 962.0L988.9 958.5M990.7 962.0L990.7 959.7M992.4 962.0L992.4 959.7M994.1 962.0L994.1 959.7M995.8 962.0L995.8 959.7M997.4 962.0L997.4 958.1M1012.1 962.0L1012.1 959.7M1024.5 962.0L1024.5 959.7M1035.3 962.0L1035.3 959.7M1044.8 962.0L1044.8 959.7M1053.3 962.0L1053.3 958.5M1061.0 962.0L1061.0 959.7M1068.0 962.0L1068.0 959.7M1074.4 962.0L1074.4 959.7M1080.4 962.0L1080.4 959.7M1086.0 962.0L1086.0 958.5M1091.2 962.0L1091.2 959.7M1096.1 962.0L1096.1 959.7M1100.7 962.0L1100.7 959.7M1105.0 962.0L1105.0 959.7M1109.2 962.0L1109.2 958.5M1113.1 962.0L1113.1 959.7M1116.9 962.0L1116.9 959.7M1120.4 962.0L1120.4 959.7M1123.9 962.0L1123.9 959.7M1127.2 962.0L1127.2 958.5M1130.3 962.0L1130.3 959.7M1133.4 962.0L1133.4 959.7M1136.3 962.0L1136.3 959.7M1139.1 962.0L1139.1 959.7M1141.9 962.0L1141.9 958.5M1144.5 962.0L1144.5 959.7M1147.1 962.0L1147.1 959.7M1149.5 962.0L1149.5 959.7M1151.9 962.0L1151.9 959.7M1154.3 962.0L1154.3 958.5M1156.6 962.0L1156.6 959.7M1158.8 962.0L1158.8 959.7M1160.9 962.0L1160.9 959.7M1163.0 962.0L1163.0 959.7M1165.0 962.0L1165.0 958.5M1167.0 962.0L1167.0 959.7M1169.0 962.0L1169.0 959.7M1170.9 962.0L1170.9 959.7M1172.7 962.0L1172.7 959.7M1174.5 962.0L1174.5 958.5M1176.3 962.0L1176.3 959.7M1178.0 962.0L1178.0 959.7M1179.7 962.0L1179.7 959.7M1181.4 962.0L1181.4 959.7M1183.0 962.0L1183.0 958.1M1197.7 962.0L1197.7 959.7M1210.2 962.0L1210.2 959.7M1220.9 962.0L1220.9 959.7M1230.4 962.0L1230.4 959.7M1238.9 962.0L1238.9 958.5M1246.6 962.0L1246.6 959.7M1253.6 962.0L1253.6 959.7M1260.1 962.0L1260.1 959.7M1266.0 962.0L1266.0 959.7M1271.6 962.0L1271.6 958.5M1276.8 962.0L1276.8 959.7M1281.7 962.0L1281.7 959.7M1286.3 962.0L1286.3 959.7M1290.7 962.0L1290.7 959.7M1294.8 962.0L1294.8 958.5M1298.7 962.0L1298.7 959.7M1302.5 962.0L1302.5 959.7M1306.1 962.0L1306.1 959.7M1309.5 962.0L1309.5 959.7M1312.8 962.0L1312.8 958.5M1315.9 962.0L1315.9 959.7M1319.0 962.0L1319.0 959.7M1321.9 962.0L1321.9 959.7M1324.7 962.0L1324.7 959.7M1327.5 962.0L1327.5 958.5M1330.1 962.0L1330.1 959.7M1332.7 962.0L1332.7 959.7M1335.2 962.0L1335.2 959.7M1337.6 962.0L1337.6 959.7M1339.9 962.0L1339.9 958.5M1342.2 962.0L1342.2 959.7M1344.4 962.0L1344.4 959.7M1346.5 962.0L1346.5 959.7M1348.6 962.0L1348.6 959.7M1350.7 962.0L1350.7 958.5M1352.7 962.0L1352.7 959.7M1354.6 962.0L1354.6 959.7M1356.5 962.0L1356.5 959.7M1358.3 962.0L1358.3 959.7M1360.2 962.0L1360.2 958.5M1361.9 962.0L1361.9 959.7M1363.7 962.0L1363.7 959.7M1365.4 962.0L1365.4 959.7M1367.0 962.0L1367.0 959.7M1368.7 962.0L1368.7 958.1M829.2 543.9L829.2 546.6M846.6 543.9L846.6 546.6M864.0 543.9L864.0 546.6M881.4 543.9L881.4 548.0M898.8 543.9L898.8 546.6M916.2 543.9L916.2 546.6M933.6 543.9L933.6 546.6M951.0 543.9L951.0 548.0M968.4 543.9L968.4 546.6M985.8 543.9L985.8 546.6M1003.2 543.9L1003.2 546.6M1020.6 543.9L1020.6 548.0M1038.0 543.9L1038.0 546.6M1055.4 543.9L1055.4 546.6M1072.8 543.9L1072.8 546.6M1090.2 543.9L1090.2 548.0M1107.6 543.9L1107.6 546.6M1125.0 543.9L1125.0 546.6M1142.4 543.9L1142.4 546.6M1159.8 543.9L1159.8 548.0M1177.2 543.9L1177.2 546.6M1194.6 543.9L1194.6 546.6M1212.0 543.9L1212.0 546.6M1229.4 543.9L1229.4 548.0M1246.8 543.9L1246.8 546.6M1264.2 543.9L1264.2 546.6M1281.6 543.9L1281.6 546.6M1299.0 543.9L1299.0 548.0M1316.4 543.9L1316.4 546.6M1333.8 543.9L1333.8 546.6M1351.2 543.9L1351.2 546.6M1368.7 553.1L1366.0 553.1M1368.7 562.4L1366.0 562.4M1368.7 571.7L1366.0 571.7M1368.7 581.0L1366.0 581.0M1368.7 590.3L1364.5 590.3M1368.7 599.6L1366.0 599.6M1368.7 608.9L1366.0 608.9M1368.7 618.2L1366.0 618.2M1368.7 627.5L1366.0 627.5M1368.7 636.8L1364.5 636.8M1368.7 646.1L1366.0 646.1M1368.7 655.3L1366.0 655.3M1368.7 664.6L1366.0 664.6M1368.7 673.9L1366.0 673.9M1368.7 683.2L1364.5 683.2M1368.7 692.5L1366.0 692.5M1368.7 701.8L1366.0 701.8M1368.7 711.1L1366.0 711.1M1368.7 720.4L1366.0 720.4M1368.7 729.7L1364.5 729.7M1368.7 739.0L1366.0 739.0M1368.7 748.3L1366.0 748.3M1368.7 757.5L1366.0 757.5M1368.7 766.8L1366.0 766.8M1368.7 776.1L1364.5 776.1M1368.7 785.4L1366.0 785.4M1368.7 794.7L1366.0 794.7M1368.7 804.0L1366.0 804.0M1368.7 813.3L1366.0 813.3M1368.7 822.6L1364.5 822.6M1368.7 831.9L1366.0 831.9M1368.7 841.2L1366.0 841.2M1368.7 850.5L1366.0 850.5M1368.7 859.7L1366.0 859.7M1368.7 869.0L1364.5 869.0M1368.7 878.3L1366.0 878.3M1368.7 887.6L1366.0 887.6M1368.7 896.9L1366.0 896.9M1368.7 906.2L1366.0 906.2M1368.7 915.5L1364.5 915.5M1368.7 924.8L1366.0 924.8M1368.7 934.1L1366.0 934.1M1368.7 943.4L1366.0 943.4M1368.7 952.7L1366.0 952.7" stroke="#000" stroke-width="1.1" fill="none"/>
<g transform="translate(749.30 550.90) scale(1.007 1)"><text font-size="24.2" x="13.46 26.91 40.37" y="0">000</text><path d="M763 0H583V1147Q518 1085 412.5 1023T223 930V1104Q374 1175 487 1276T647 1472H763Z" transform="translate(0.00 0) scale(0.01182 -0.01136)" fill="#000" stroke="#000" stroke-width="38.1" stroke-linejoin="round"/></g>
<g transform="translate(762.85 690.67) scale(1.007 1)"><text font-size="24.2" x="13.46 26.91" y="0">00</text><path d="M763 0H583V1147Q518 1085 412.5 1023T223 930V1104Q374 1175 487 1276T647 1472H763Z" transform="translate(0.00 0) scale(0.01182 -0.01136)" fill="#000" stroke="#000" stroke-width="38.1" stroke-linejoin="round"/></g>
<g transform="translate(776.40 830.44) scale(1.007 1)"><text font-size="24.2" x="13.46" y="0">0</text><path d="M763 0H583V1147Q518 1085 412.5 1023T223 930V1104Q374 1175 487 1276T647 1472H763Z" transform="translate(0.00 0) scale(0.01182 -0.01136)" fill="#000" stroke="#000" stroke-width="38.1" stroke-linejoin="round"/></g>
<g transform="translate(789.95 970.21) scale(1.007 1)"><path d="M763 0H583V1147Q518 1085 412.5 1023T223 930V1104Q374 1175 487 1276T647 1472H763Z" transform="translate(0.00 0) scale(0.01182 -0.01136)" fill="#000" stroke="#000" stroke-width="38.1" stroke-linejoin="round"/></g>
<g transform="translate(787.39 991.20) scale(1.007 1)"><text font-size="24.2" x="0.00 13.46 20.18" y="0">0.0</text><path d="M763 0H583V1147Q518 1085 412.5 1023T223 930V1104Q374 1175 487 1276T647 1472H763Z" transform="translate(33.64 0) scale(0.01182 -0.01136)" fill="#000" stroke="#000" stroke-width="38.1" stroke-linejoin="round"/></g>
<g transform="translate(973.01 991.20) scale(1.007 1)"><text font-size="24.2" x="0.00 13.46 33.64" y="0">0.0</text><path d="M763 0H583V1147Q518 1085 412.5 1023T223 930V1104Q374 1175 487 1276T647 1472H763Z" transform="translate(20.18 0) scale(0.01182 -0.01136)" fill="#000" stroke="#000" stroke-width="38.1" stroke-linejoin="round"/></g>
<g transform="translate(1158.62 991.20) scale(1.007 1)"><text font-size="24.2" x="13.46 20.18 33.64" y="0">.00</text><path d="M763 0H583V1147Q518 1085 412.5 1023T223 930V1104Q374 1175 487 1276T647 1472H763Z" transform="translate(0.00 0) scale(0.01182 -0.01136)" fill="#000" stroke="#000" stroke-width="38.1" stroke-linejoin="round"/></g>
<g transform="translate(1337.46 991.20) scale(1.007 1)"><text font-size="24.2" x="13.46 26.91 33.64 47.09" y="0">0.00</text><path d="M763 0H583V1147Q518 1085 412.5 1023T223 930V1104Q374 1175 487 1276T647 1472H763Z" transform="translate(0.00 0) scale(0.01182 -0.01136)" fill="#000" stroke="#000" stroke-width="38.1" stroke-linejoin="round"/></g>
<text font-size="28.2" text-anchor="start" transform="translate(988.05 935.20) scale(0.954 1)" >Si-limitation</text>
<text font-size="37.5" text-anchor="start" font-weight="bold" transform="translate(821.60 595.00) scale(0.994 1)" style="stroke:none">D</text>
<text font-size="28.2" text-anchor="start" transform="translate(1050.45 1031.00) scale(0.955 1)" >Si/DIN</text>
<text font-size="28.2" text-anchor="start" transform="translate(732.70 796.60) rotate(-90) scale(0.964 1)" >Si/SRP</text>
</svg>
</body></html>
